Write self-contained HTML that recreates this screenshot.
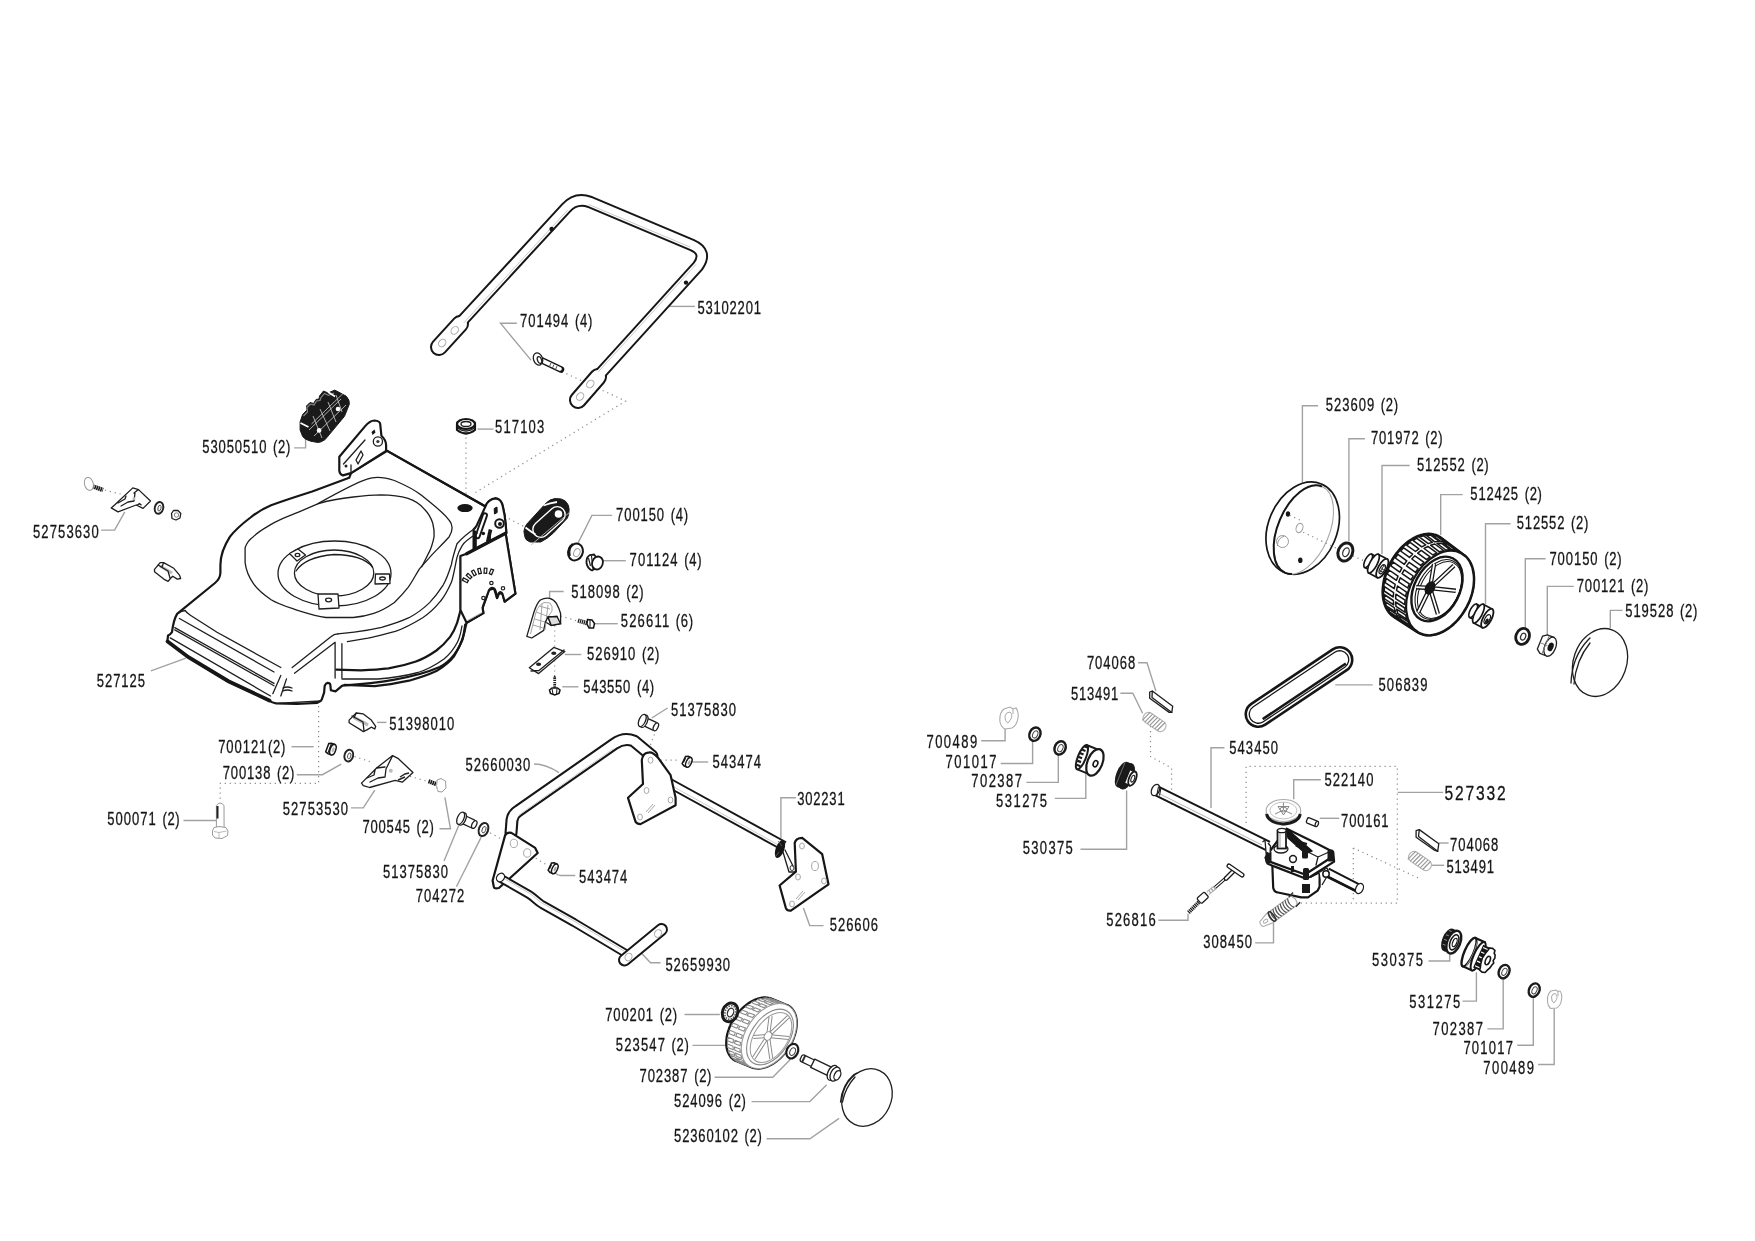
<!DOCTYPE html>
<html><head><meta charset="utf-8"><style>
html,body{margin:0;padding:0;background:#fff;width:1755px;height:1241px;overflow:hidden}
svg{display:block;will-change:transform}
text{font-family:"Liberation Sans",sans-serif;font-size:17.6px;fill:#151515;stroke:#151515;stroke-width:0.3px}
.k{fill:#fff;stroke:#161616;stroke-width:2.2;stroke-linejoin:round;stroke-linecap:round}
.kn{fill:none;stroke:#161616;stroke-width:2.2;stroke-linejoin:round;stroke-linecap:round}
.t{fill:none;stroke:#1e1e1e;stroke-width:1.3;stroke-linejoin:round;stroke-linecap:round}
.tw{fill:#fff;stroke:#1e1e1e;stroke-width:1.3;stroke-linejoin:round}
.g{fill:none;stroke:#a8a8a8;stroke-width:1}
.gw{fill:#fff;stroke:#9a9a9a;stroke-width:1}
.l{fill:none;stroke:#a2a2a2;stroke-width:1.4}
.d{fill:none;stroke:#8a8a8a;stroke-width:1.2;stroke-dasharray:1.2 3.8}
.f{fill:#1a1a1a;stroke:#1a1a1a;stroke-width:1;stroke-linejoin:round}
</style></head><body>
<svg width="1755" height="1241" viewBox="0 0 1755 1241">
<g class="l">
<path d="M668.9,306.4H694.9"/>
<path d="M516.8,323.3H500.5L531,360.1"/>
<path d="M493.4,429.1H477.5"/>
<path d="M294.1,447.9H305.6V438.8"/>
<path d="M101.1,530.1H114.6L124.8,511.9"/>
<path d="M612.2,515.4H591.9L577.5,544.1"/>
<path d="M625.8,560.7H602.9"/>
<path d="M563.7,591.5H549.6V598.3"/>
<path d="M617.8,623.7H594.5"/>
<path d="M581.3,654.5H564.8"/>
<path d="M578.4,686.8H562.3"/>
<path d="M150.9,670.9L186,658.2"/>
<path d="M386.4,722.4H377.1"/>
<path d="M667.6,708L651.8,718"/>
<path d="M291.5,746.7H313.7"/>
<path d="M296.8,774.7H322.5L341.2,764.1"/>
<path d="M534,764Q546,764 559,772.7"/>
<path d="M708.2,762H691.9"/>
<path d="M350.9,807.9H363.3L374.8,790.2"/>
<path d="M795.9,797.8H780.9V837.9"/>
<path d="M183.5,820.5H217"/>
<path d="M439.5,828.8H450.5L444.9,797.3"/>
<path d="M444,861.1L459,824.7"/>
<path d="M575.3,875.5H560.3Q556,875 554,870.5"/>
<path d="M456.4,886.8L481.2,837.1"/>
<path d="M823.5,925.6H809.7L803.4,908.1"/>
<path d="M660.5,962.8H650.5L639.2,950.7"/>
<path d="M684.5,1014.5H719.8"/>
<path d="M692.5,1045.4H726.9"/>
<path d="M714.5,1077.2H772.8L790.5,1059.2"/>
<path d="M751.6,1101.6H809.9L826.7,1084.8"/>
<path d="M766.6,1138.7H809.9L839.1,1118.4"/>
<path d="M1318.1,405.8H1302.4V482.7"/>
<path d="M1364.9,438.7H1348.9V541.4"/>
<path d="M1409.7,465.5H1382V554"/>
<path d="M1462.7,494.6H1440.7V535.1"/>
<path d="M1510.6,523.8H1485.5V604.1"/>
<path d="M1545.6,558.8H1525.3V628.2"/>
<path d="M1573.8,586.4H1547.3V635"/>
<path d="M1622.5,610.4H1610.3V628.3"/>
<path d="M1138.1,662.7H1147L1155.9,691.1"/>
<path d="M1120.4,693.2H1132.8L1142.6,713.3"/>
<path d="M1372.7,684.9H1335.3"/>
<path d="M981.2,740.8H1005.1V728.3"/>
<path d="M1000.7,763.5H1032.6V740.8"/>
<path d="M1026.4,782.4H1058.3V754.1"/>
<path d="M1054.8,798.4H1085.8V772.7"/>
<path d="M1080.5,849.3H1126.6V790.4"/>
<path d="M1224.5,747.8H1211V808"/>
<path d="M1320.8,779.8H1293.7V799.3"/>
<path d="M1443.2,792.4H1397.7"/>
<path d="M1339.2,818.3H1319.7"/>
<path d="M1448.6,843H1438.8"/>
<path d="M1444.2,865.3H1431.3"/>
<path d="M1158.4,920.3H1188V913.8"/>
<path d="M1255.2,942.9H1273.5V920.7"/>
<path d="M1428.5,961H1449.7V953.2"/>
<path d="M1462.5,1001.1H1476.4V972.3"/>
<path d="M1487.4,1028.9H1503.2V978.5"/>
<path d="M1517.3,1045.3H1533.3V997.7"/>
<path d="M1538.1,1064.5H1554.2V1008.6"/>
</g>
<g class="d">
<path d="M561.8,371.5L625.6,401.1L474,493.4"/>
<path d="M466,437.5V505"/>
<path d="M104.9,490.2L121.4,494.2M134,498.7L151.1,502.7"/>
<path d="M318.6,706V783.3H220.2V801"/>
<path d="M354.5,756.5L373.1,762.7M390.8,770.7L427.1,781.3"/>
<path d="M554.7,625.4V677.8M560.6,616L577.5,621"/>
<path d="M490.1,832.9L503.9,840.4M527.2,853L547.7,865.5"/>
<path d="M658,725.1L648,751.4M650.5,760.2L680.6,760.2"/>
<path d="M1352.8,556L1367,562"/>
<path d="M1150.5,726V756.5L1171.6,768V808"/>
<path d="M1246.1,823V766.4H1397.3V903.2H1300"/>
<path d="M1353.3,848L1421.5,879.4M1353.3,848V903"/>
<path d="M504.4,516.3L524.8,527"/>
</g>

<!-- deck 527125 -->
<g>
<!-- main body fill -->
<path class="k" stroke-width="2.6" d="M349.2,477.8L312.2,491.5C295,497 280,502 271.1,505.2C262,509 256,513 250.5,517.5C242,524 235,530 230,536.7C224,546 220.4,555 220.4,565L220.4,573Q220,579 215,583L177.1,613.9Q173.5,620 172,632.2Q170,635 168,635.6L167.4,641.3L188.5,657.2L228.4,681.2L269.4,700.5Q272,703 276,703.4L296.8,704L317.3,702.8Q321,701 321.8,699.4L324.1,692.6L324.7,685.7Q326,683 327.5,682.9Q330,683 330.3,684.6L330.9,690.3L335.5,691.4L342.3,685.7C376,683 412,679 439.8,667C455,659 462,645 465.5,627.3L466.6,622.8L483.4,613.1L482.6,607.8L486.5,597L489,590L494,588.5L497,598L499,593L502.5,594L504.7,601.6L515.4,593.6L505.6,533.3L506.3,532.9L504.6,515.4L502.6,505.5L495.6,498.3L488.8,501.3L485.5,506.4L484.2,505.8L387.2,450.9L351,473.1Z"/>
<!-- front lip lines -->
<path d="M167.6,641.5L188.5,657.2L228.4,681.2L269.4,700.5" stroke="#161616" stroke-width="3.8" fill="none" stroke-linecap="round"/>
<path class="t" stroke-width="1.6" d="M170.3,637.9L270.5,696"/>
<path class="t" d="M174.8,627.6L274,683.4M174.8,629.9L274,685.8"/>
<path class="t" stroke-width="1.6" d="M179.4,618.5L274,672"/>
<path class="t" stroke-width="1.7" d="M177.1,613.9Q181,611 185.1,610.5Q187,613 190,615L217,632.2L280.8,667.5"/>
<path class="t" d="M280.8,675.5L272.8,693.7M286.5,678.9L280.8,696"/>
<path class="t" d="M283,688Q287,686 292,688M283,691Q287,689 292,691"/>
<path class="t" stroke-width="1.7" d="M292.2,667.5L330.9,636.7Q334,634 337.8,633.9"/>
<path class="t" stroke-width="1.7" d="M294.5,673.2L335.1,642.3V678"/>
<path class="t" stroke-width="1.7" d="M341.9,643.7V678"/>

<path class="t" d="M276,703.4L321,701"/>
<!-- top surface loop A -->
<path class="t" stroke-width="1.9" d="M317.7,503.8C330,497 355,483 367,479.2Q378,475 394.4,480.5C405,485 415,490 421.8,495.6C432,504 443,512 449.2,520.3Q455,527 449.2,536.7C442,545 433,553 428.6,558.6C423,565 420,568 419,569.6C415,576 412,582 408.1,587.4C403,594 398,599 394.4,602.5C388,607 381,611 373.8,613.4C366,616 360,617 353.3,617.5L325.9,617.5C315,616 306,613 298.5,610.7C288,607 278,604 271.1,599.7C263,594 257,589 253.3,583.3C248,576 246,570 245.1,562.7L245.1,547.7C247,542 250,539 253.3,536.7C259,531 265,528 271.1,524.4C280,519 289,516 298.5,512.1Z"/>
<!-- loop B -->
<path class="t" stroke-width="1.9" d="M317.7,503.8C330,500 343,498 353.3,497C362,496 372,495 380.7,494.9C390,495 400,496 408.1,498.4C416,501 421,505 424.5,509.3C429,514 431,518 432.7,523C434,528 434.5,532 434.1,536.7C433,542 432,546 430,550.4L421.8,566.8"/>
<!-- ring -->
<ellipse cx="334.5" cy="573.5" rx="56.5" ry="32.5" class="t" stroke-width="1.9"/>
<ellipse cx="334.1" cy="573" rx="39.7" ry="23" class="t" stroke-width="2"/>
<path class="t" stroke-width="1.6" d="M296,571Q305,557 334,554.5Q363,555 372.5,567"/>
<!-- ring tabs -->
<g class="tw"><path d="M289.5,553.5L298,549L305.5,555L297,561Z"/><ellipse cx="297.5" cy="555" rx="2.3" ry="1.6"/>
<path d="M375.5,574L389.5,574L390,583.5L375,584Z"/><ellipse cx="382.5" cy="578.5" rx="2.8" ry="1.5"/>
<path d="M318,594L338,594L339,608L319,609Z"/><ellipse cx="328.6" cy="600" rx="3" ry="1.8"/></g>
<!-- rear edge -->
<path class="kn" stroke-width="2.6" d="M387.2,450.9L484.2,505.8"/>
<ellipse cx="465" cy="508.1" rx="7.7" ry="4" fill="#161616"/>
<!-- left hinge bracket -->
<path class="k" d="M339.3,456.7L365,426.4Q370,420.5 374.4,420.5Q380,421 380.2,424L381.4,435.7Q386,440 386.1,445L386.1,450.9L351,473.1L342.9,475.4Q339.5,474 339.3,470.7Z"/>
<circle cx="377.9" cy="441.5" r="4.6" class="t" stroke-width="1.6"/><circle cx="377.9" cy="441.5" r="1.6" fill="#333"/>
<path class="t" d="M356,460L361,451L363,455L358,464Z"/>
<path d="M371.5,432l3,-2.5l1,3l-3,2.5z" fill="#161616"/>
<path class="t" d="M343.5,464L365,440M351,473.1V465"/>
<circle cx="346" cy="466" r="1.5" fill="#222"/>
<!-- right hinge bracket -->
<path class="k" stroke-width="2.4" d="M485.5,506.4Q486.5,503 488.8,501.3Q492,498.3 495.6,498.3Q499,498.5 500.6,501Q502.2,503 502.6,505.5L504.6,515.4L505.8,525L506.3,532.9L504.6,535.1L499,537.4L486.6,544.1L476.4,549.8L473.6,549L473.6,529.5L476.4,526.1Z"/>
<path d="M484.9,515.4L477.6,536.2" stroke="#161616" stroke-width="6" stroke-linecap="round"/>
<path d="M484.9,515.4L477.6,536.2" stroke="#fff" stroke-width="2.2" stroke-linecap="round"/>
<circle cx="499.5" cy="523.5" r="4.3" fill="#fff" stroke="#161616" stroke-width="2"/>
<circle cx="500" cy="524" r="2" fill="#161616"/>
<path d="M494.2,508.5L497,507L497.2,512.5L494.5,514Z" fill="#161616" stroke="#161616" stroke-width="1"/>
<circle cx="483.3" cy="533.5" r="1.8" fill="#161616"/>
<path d="M490.5,529.5L487.7,541.9" stroke="#161616" stroke-width="3.6"/>
<path d="M474.7,530.6V549.2" stroke="#161616" stroke-width="2.6"/>
<!-- side plate -->
<path class="k" stroke-width="2.4" d="M460.4,556L466.6,553.7L505.6,533.3L515.4,593.6L504.7,601.6L502.5,594Q501,591 499,593L497,598Q496,590 494,588.5Q491,587 489,590L486.5,597L483.4,605.1L482.6,607.8L483.4,613.1L466.6,622.8L460.4,610Z"/>
<path d="M466.6,553.7L505.6,533.3" stroke="#161616" stroke-width="3.4" stroke-linecap="round"/>
<path d="M475.5,533.3V549M489.6,533.3V542.5" stroke="#161616" stroke-width="2.6"/>
<path d="M468.4,581.9L462.3,578.8" stroke="#161616" stroke-width="3.8"/><path d="M467.2,581.3L463.6,579.4" stroke="#fff" stroke-width="1.4"/><path d="M471.5,578.3L466.6,573.8" stroke="#161616" stroke-width="3.8"/><path d="M470.5,577.4L467.6,574.7" stroke="#fff" stroke-width="1.4"/><path d="M475.5,575.7L472.3,570.1" stroke="#161616" stroke-width="3.8"/><path d="M474.9,574.6L472.9,571.2" stroke="#fff" stroke-width="1.4"/><path d="M480.3,574.2L478.8,568.0" stroke="#161616" stroke-width="3.8"/><path d="M480.0,572.9L479.1,569.2" stroke="#fff" stroke-width="1.4"/><path d="M485.3,573.8L485.7,567.6" stroke="#161616" stroke-width="3.8"/><path d="M485.4,572.6L485.6,568.8" stroke="#fff" stroke-width="1.4"/><path d="M490.2,574.8L492.6,568.9" stroke="#161616" stroke-width="3.8"/><path d="M490.6,573.6L492.1,570.0" stroke="#fff" stroke-width="1.4"/>
<circle cx="491.4" cy="583" r="1.7" fill="none" stroke="#222" stroke-width="1.2"/><circle cx="503" cy="588.3" r="1.7" fill="none" stroke="#222" stroke-width="1.2"/><circle cx="483.4" cy="598" r="1.7" fill="none" stroke="#222" stroke-width="1.2"/>
<path d="M467.5,620.5L482,612.5" stroke="#aaa" stroke-width="0.9"/>
<!-- rear skirt lines -->
<path class="t" stroke-width="1.7" d="M475.5,528C468,533 462,538 457,543.7C455,550 452,560 451.5,564.2C449,572 446,580 443.3,584.8C438,593 434,598 429.6,602.6C423,609 416,614 409,617.7C400,622 390,625 381.6,627.3C372,629.5 363,631 354.2,632.1L337.8,633.9"/>
<path class="t" stroke-width="1.7" d="M477.2,533.3C470,538 465,541 462.5,545.1C460,549 458,553 457,557.4C455,566 454,574 451.5,582.1C448,590 445,596 440.5,601.2C435,608 430,613 422.7,617.7C414,623 405,628 395.3,631.4C386,634 377,636 367.9,638.2L347.4,641.6"/>
<path class="t" stroke-width="1.6" d="M460.4,557.4V608.8"/>
<path class="kn" stroke-width="2.3" d="M460.4,610.8C459,616 458,620 457,623.2C455,629 453,633 450.1,636.8C446,642 441,647 436.4,650.5C430,655 423,659 415.9,661.5C406,665 397,667 388.5,668.4C379,669.5 370,670 361.1,670.4L336.4,669.7"/>
<path class="t" stroke-width="1.2" d="M462,626C461,632 459.5,638 457.5,642C454,649 450,654 444,659C437,664 429,669 418,672.5C405,676 392,678 378,679L342,679"/>
<path class="kn" stroke-width="2.6" d="M465.2,624.5C464.5,630 463.8,635 462.5,639.6C460,646 457,651 454.2,656C449,663 443,667 436.4,671.1C428,675 419,678 409,680.7C398,683 387,685 374.8,686.2L344.7,684.8"/>
</g>

<path d="M1382.8,592.3 L1382.8,590.9 L1382.9,589.5 L1383.0,588.0 L1383.1,586.6 L1383.3,585.1 L1383.5,583.6 L1383.7,582.1 L1384.0,580.7 L1384.4,579.2 L1384.7,577.7 L1385.1,576.2 L1385.6,574.7 L1386.1,573.2 L1386.6,571.7 L1387.2,570.2 L1387.8,568.7 L1388.4,567.2 L1389.1,565.8 L1389.8,564.3 L1390.5,562.9 L1391.3,561.5 L1392.1,560.1 L1392.9,558.7 L1393.8,557.4 L1394.7,556.1 L1395.6,554.8 L1396.5,553.5 L1397.5,552.3 L1398.5,551.1 L1399.5,549.9 L1400.5,548.7 L1401.6,547.6 L1402.7,546.5 L1403.8,545.5 L1404.9,544.5 L1406.0,543.5 L1407.1,542.6 L1408.3,541.7 L1409.4,540.9 L1410.6,540.1 L1411.8,539.4 L1412.9,538.7 L1414.1,538.0 L1415.3,537.4 L1416.5,536.8 L1417.7,536.3 L1418.9,535.9 L1420.1,535.5 L1421.3,535.1 L1422.5,534.8 L1423.6,534.5 L1424.8,534.3 L1426.0,534.2 L1427.1,534.1 L1428.2,534.0 L1429.4,534.0 L1430.5,534.1 L1431.5,534.2 L1432.6,534.3 L1433.7,534.6 L1434.7,534.8 L1435.7,535.1 L1436.7,535.5 L1437.7,535.9 L1438.6,536.4 L1439.5,536.9 L1440.4,537.5 L1441.2,538.1 L1463.8,555.0 L1464.6,555.6 L1465.4,556.3 L1466.2,557.1 L1466.9,557.9 L1467.6,558.7 L1468.3,559.6 L1468.9,560.5 L1469.5,561.4 L1470.1,562.4 L1470.6,563.5 L1471.1,564.5 L1471.5,565.6 L1472.0,566.8 L1472.3,567.9 L1472.7,569.1 L1473.0,570.4 L1473.2,571.6 L1473.4,572.9 L1473.6,574.2 L1473.7,575.5 L1473.8,576.9 L1473.9,578.2 L1473.9,579.6 L1473.8,581.0 L1473.8,582.5 L1473.7,583.9 L1473.5,585.3 L1473.3,586.8 L1473.1,588.2 L1472.8,589.7 L1472.5,591.2 L1472.1,592.6 L1471.7,594.1 L1471.3,595.6 L1470.8,597.1 L1470.3,598.5 L1469.8,600.0 L1469.2,601.4 L1468.6,602.9 L1467.9,604.3 L1467.2,605.7 L1466.5,607.1 L1465.7,608.5 L1465.0,609.8 L1464.1,611.2 L1463.3,612.5 L1462.4,613.8 L1461.5,615.0 L1460.6,616.3 L1459.6,617.5 L1458.7,618.7 L1457.7,619.8 L1456.6,620.9 L1455.6,622.0 L1454.5,623.1 L1453.5,624.1 L1452.4,625.1 L1451.3,626.0 L1450.1,626.9 L1449.0,627.7 L1447.9,628.6 L1446.7,629.3 L1445.5,630.1 L1444.4,630.7 L1443.2,631.4 L1442.0,632.0 L1440.8,632.5 L1439.7,633.0 L1438.5,633.4 L1437.3,633.8 L1436.1,634.2 L1434.9,634.5 L1433.8,634.7 L1432.6,634.9 L1431.5,635.0 L1430.3,635.1 L1429.2,635.2 L1428.1,635.1 L1427.0,635.1 L1425.9,635.0 L1424.8,634.8 L1423.8,634.6 L1422.8,634.3 L1421.8,634.0 L1420.8,633.6 L1419.8,633.2 L1418.9,632.7 L1418.0,632.2 L1417.1,631.7 L1393.6,616.5 L1392.8,615.9 L1391.9,615.3 L1391.1,614.6 L1390.4,613.8 L1389.6,613.0 L1388.9,612.2 L1388.3,611.3 L1387.6,610.3 L1387.1,609.4 L1386.5,608.4 L1386.0,607.3 L1385.5,606.2 L1385.1,605.1 L1384.6,604.0 L1384.3,602.8 L1384.0,601.6 L1383.7,600.3 L1383.4,599.1 L1383.2,597.8 L1383.1,596.4 L1382.9,595.1 L1382.9,593.7Z" fill="#fff" stroke="#161616" stroke-width="2.8" stroke-linejoin="round"/>
<path d="M1400.2,620.1 L1409.4,626.0 L1413.7,626.8 L1404.6,620.9Z" fill="#fff" stroke="#161616" stroke-width="1.5" stroke-linejoin="round"/>
<path d="M1394.9,617.5 L1404.0,623.4 L1407.9,625.5 L1398.7,619.6Z" fill="#fff" stroke="#161616" stroke-width="1.5" stroke-linejoin="round"/>
<path d="M1390.5,613.4 L1399.7,619.3 L1402.8,622.5 L1393.6,616.6Z" fill="#fff" stroke="#161616" stroke-width="1.5" stroke-linejoin="round"/>
<path d="M1387.2,608.1 L1396.4,614.0 L1398.5,617.9 L1389.4,612.0Z" fill="#fff" stroke="#161616" stroke-width="1.5" stroke-linejoin="round"/>
<path d="M1385.1,601.7 L1394.2,607.7 L1395.5,611.9 L1386.3,606.0Z" fill="#fff" stroke="#161616" stroke-width="1.5" stroke-linejoin="round"/>
<path d="M1384.2,594.5 L1393.3,600.5 L1393.7,604.9 L1384.6,598.9Z" fill="#fff" stroke="#161616" stroke-width="1.5" stroke-linejoin="round"/>
<path d="M1384.5,586.6 L1393.6,592.6 L1393.3,597.0 L1384.2,591.0Z" fill="#fff" stroke="#161616" stroke-width="1.5" stroke-linejoin="round"/>
<path d="M1386.1,578.3 L1395.2,584.4 L1394.2,588.7 L1385.2,582.6Z" fill="#fff" stroke="#161616" stroke-width="1.5" stroke-linejoin="round"/>
<path d="M1389.0,570.0 L1398.0,576.2 L1396.4,580.3 L1387.4,574.1Z" fill="#fff" stroke="#161616" stroke-width="1.5" stroke-linejoin="round"/>
<path d="M1392.9,561.9 L1401.9,568.2 L1399.8,572.1 L1390.9,565.8Z" fill="#fff" stroke="#161616" stroke-width="1.5" stroke-linejoin="round"/>
<path d="M1397.9,554.4 L1406.8,560.8 L1404.3,564.3 L1395.3,558.0Z" fill="#fff" stroke="#161616" stroke-width="1.5" stroke-linejoin="round"/>
<path d="M1403.7,547.8 L1412.6,554.2 L1409.5,557.4 L1400.6,551.0Z" fill="#fff" stroke="#161616" stroke-width="1.5" stroke-linejoin="round"/>
<path d="M1410.1,542.4 L1418.9,548.8 L1415.5,551.5 L1406.6,545.1Z" fill="#fff" stroke="#161616" stroke-width="1.5" stroke-linejoin="round"/>
<path d="M1416.8,538.3 L1425.7,544.8 L1421.8,546.9 L1413.0,540.4Z" fill="#fff" stroke="#161616" stroke-width="1.5" stroke-linejoin="round"/>
<path d="M1423.7,535.8 L1432.5,542.3 L1428.3,543.6 L1419.5,537.1Z" fill="#fff" stroke="#161616" stroke-width="1.5" stroke-linejoin="round"/>
<path d="M1430.4,534.9 L1439.2,541.5 L1434.8,541.8 L1426.0,535.2Z" fill="#fff" stroke="#161616" stroke-width="1.5" stroke-linejoin="round"/>
<path d="M1436.5,535.9 L1445.3,542.4 L1441.0,541.6 L1432.2,535.0Z" fill="#fff" stroke="#161616" stroke-width="1.5" stroke-linejoin="round"/>
<path d="M1441.9,538.4 L1450.7,545.0 L1446.8,542.9 L1438.0,536.3Z" fill="#fff" stroke="#161616" stroke-width="1.5" stroke-linejoin="round"/>
<path d="M1446.2,542.5 L1455.0,549.1 L1451.9,545.9 L1443.2,539.4Z" fill="#fff" stroke="#161616" stroke-width="1.5" stroke-linejoin="round"/>
<path d="M1449.5,547.8 L1458.3,554.4 L1456.2,550.5 L1447.4,544.0Z" fill="#fff" stroke="#161616" stroke-width="1.5" stroke-linejoin="round"/>
<path d="M1406.4,624.9 L1415.5,630.8 L1419.4,632.9 L1410.2,627.0Z" fill="#fff" stroke="#161616" stroke-width="1.5" stroke-linejoin="round"/>
<path d="M1402.0,620.9 L1411.2,626.8 L1414.3,629.9 L1405.1,624.0Z" fill="#fff" stroke="#161616" stroke-width="1.5" stroke-linejoin="round"/>
<path d="M1398.7,615.6 L1407.9,621.5 L1410.0,625.3 L1400.9,619.4Z" fill="#fff" stroke="#161616" stroke-width="1.5" stroke-linejoin="round"/>
<path d="M1396.6,609.2 L1405.7,615.2 L1406.9,619.4 L1397.8,613.5Z" fill="#fff" stroke="#161616" stroke-width="1.5" stroke-linejoin="round"/>
<path d="M1395.6,602.0 L1404.7,608.0 L1405.1,612.4 L1396.0,606.4Z" fill="#fff" stroke="#161616" stroke-width="1.5" stroke-linejoin="round"/>
<path d="M1395.9,594.2 L1405.0,600.2 L1404.7,604.6 L1395.6,598.6Z" fill="#fff" stroke="#161616" stroke-width="1.5" stroke-linejoin="round"/>
<path d="M1397.5,586.0 L1406.5,592.1 L1405.6,596.4 L1396.5,590.3Z" fill="#fff" stroke="#161616" stroke-width="1.5" stroke-linejoin="round"/>
<path d="M1400.3,577.8 L1409.3,583.9 L1407.7,588.0 L1398.7,581.9Z" fill="#fff" stroke="#161616" stroke-width="1.5" stroke-linejoin="round"/>
<path d="M1404.2,569.8 L1413.2,576.0 L1411.1,579.9 L1402.1,573.7Z" fill="#fff" stroke="#161616" stroke-width="1.5" stroke-linejoin="round"/>
<path d="M1409.1,562.4 L1418.1,568.7 L1415.5,572.3 L1406.5,565.9Z" fill="#fff" stroke="#161616" stroke-width="1.5" stroke-linejoin="round"/>
<path d="M1414.9,555.8 L1423.8,562.2 L1420.7,565.4 L1411.8,559.0Z" fill="#fff" stroke="#161616" stroke-width="1.5" stroke-linejoin="round"/>
<path d="M1421.2,550.4 L1430.1,556.9 L1426.6,559.6 L1417.7,553.1Z" fill="#fff" stroke="#161616" stroke-width="1.5" stroke-linejoin="round"/>
<path d="M1427.9,546.4 L1436.8,552.9 L1432.9,555.0 L1424.1,548.5Z" fill="#fff" stroke="#161616" stroke-width="1.5" stroke-linejoin="round"/>
<path d="M1434.8,544.0 L1443.6,550.5 L1439.4,551.8 L1430.6,545.2Z" fill="#fff" stroke="#161616" stroke-width="1.5" stroke-linejoin="round"/>
<path d="M1441.4,543.2 L1450.2,549.8 L1445.8,550.0 L1437.0,543.5Z" fill="#fff" stroke="#161616" stroke-width="1.5" stroke-linejoin="round"/>
<path d="M1447.6,544.1 L1456.4,550.7 L1452.0,549.8 L1443.3,543.2Z" fill="#fff" stroke="#161616" stroke-width="1.5" stroke-linejoin="round"/>
<path d="M1452.9,546.7 L1461.7,553.3 L1457.8,551.2 L1449.1,544.6Z" fill="#fff" stroke="#161616" stroke-width="1.5" stroke-linejoin="round"/>
<path d="M1457.3,550.7 L1466.1,557.3 L1463.0,554.2 L1454.2,547.6Z" fill="#fff" stroke="#161616" stroke-width="1.5" stroke-linejoin="round"/>
<ellipse cx="1440.0" cy="593.0" rx="30.0" ry="45.0" transform="rotate(28 1440.0 593.0)" fill="#fff" stroke="#161616" stroke-width="2.2"/>
<ellipse cx="1437.0" cy="589.0" rx="22.5" ry="34.5" transform="rotate(28 1437.0 589.0)" fill="#fff" stroke="#161616" stroke-width="2.4"/>
<ellipse cx="1438.5" cy="589.5" rx="20.5" ry="32.0" transform="rotate(28 1438.5 589.5)" fill="none" stroke="#161616" stroke-width="1.1"/>
<ellipse cx="1439.5" cy="590.0" rx="19.0" ry="30.5" transform="rotate(28 1439.5 590.0)" fill="none" stroke="#161616" stroke-width="1"/>
<path d="M1430,588L1453.9,565.7M1430,588L1455.8,590.8M1430,588L1437.9,614.0M1430,588L1418.1,612.3M1430,588L1416.2,587.2M1430,588L1434.1,564.0" stroke="#161616" stroke-width="4.4" fill="none"/>
<path d="M1430,588L1453.9,565.7M1430,588L1455.8,590.8M1430,588L1437.9,614.0M1430,588L1418.1,612.3M1430,588L1416.2,587.2M1430,588L1434.1,564.0" stroke="#fff" stroke-width="1.8" fill="none"/>
<ellipse cx="1430.0" cy="588.0" rx="5.0" ry="7.0" transform="rotate(28 1430.0 588.0)" fill="#161616"/>
<path d="M726.3,1042.5 L726.3,1041.5 L726.4,1040.4 L726.5,1039.3 L726.6,1038.2 L726.7,1037.1 L726.9,1036.0 L727.2,1034.9 L727.4,1033.8 L727.7,1032.7 L728.0,1031.5 L728.4,1030.4 L728.8,1029.3 L729.2,1028.1 L729.6,1027.0 L730.1,1025.9 L730.6,1024.7 L731.2,1023.6 L731.7,1022.5 L732.3,1021.4 L732.9,1020.3 L733.6,1019.3 L734.2,1018.2 L734.9,1017.1 L735.6,1016.1 L736.4,1015.1 L737.1,1014.1 L737.9,1013.1 L738.7,1012.2 L739.5,1011.2 L740.4,1010.3 L741.2,1009.4 L742.1,1008.5 L743.0,1007.7 L743.9,1006.9 L744.8,1006.1 L745.7,1005.4 L746.6,1004.6 L747.6,1003.9 L748.5,1003.3 L749.4,1002.6 L750.4,1002.1 L751.4,1001.5 L752.3,1001.0 L753.3,1000.5 L754.3,1000.0 L755.2,999.6 L756.2,999.2 L757.2,998.9 L758.1,998.6 L759.1,998.3 L760.0,998.1 L761.0,997.9 L761.9,997.7 L762.8,997.6 L763.7,997.5 L764.6,997.5 L765.5,997.5 L766.4,997.6 L767.3,997.6 L768.1,997.8 L768.9,997.9 L769.7,998.1 L770.5,998.4 L771.3,998.7 L786.3,1004.7 L787.0,1005.0 L787.8,1005.3 L788.5,1005.7 L789.1,1006.2 L789.8,1006.6 L790.4,1007.1 L791.0,1007.7 L791.6,1008.2 L792.1,1008.8 L792.7,1009.5 L793.1,1010.2 L793.6,1010.9 L794.0,1011.6 L794.4,1012.4 L794.8,1013.1 L795.1,1014.0 L795.5,1014.8 L795.7,1015.7 L796.0,1016.6 L796.2,1017.5 L796.4,1018.4 L796.5,1019.4 L796.6,1020.4 L796.7,1021.4 L796.7,1022.4 L796.7,1023.5 L796.7,1024.5 L796.6,1025.6 L796.5,1026.7 L796.4,1027.8 L796.3,1028.9 L796.1,1030.0 L795.8,1031.1 L795.6,1032.2 L795.3,1033.3 L795.0,1034.5 L794.6,1035.6 L794.2,1036.7 L793.8,1037.9 L793.4,1039.0 L792.9,1040.1 L792.4,1041.3 L791.8,1042.4 L791.3,1043.5 L790.7,1044.6 L790.1,1045.7 L789.4,1046.7 L788.8,1047.8 L788.1,1048.9 L787.4,1049.9 L786.6,1050.9 L785.9,1051.9 L785.1,1052.9 L784.3,1053.8 L783.5,1054.8 L782.6,1055.7 L781.8,1056.6 L780.9,1057.5 L780.0,1058.3 L779.1,1059.1 L778.2,1059.9 L777.3,1060.6 L776.4,1061.4 L775.4,1062.1 L774.5,1062.7 L773.6,1063.4 L772.6,1063.9 L771.6,1064.5 L770.7,1065.0 L769.7,1065.5 L768.7,1066.0 L767.8,1066.4 L766.8,1066.8 L765.8,1067.1 L764.9,1067.4 L763.9,1067.7 L763.0,1067.9 L762.0,1068.1 L761.1,1068.3 L760.2,1068.4 L759.3,1068.5 L758.4,1068.5 L757.5,1068.5 L756.6,1068.4 L755.7,1068.4 L754.9,1068.2 L754.1,1068.1 L753.3,1067.9 L752.5,1067.6 L751.7,1067.3 L736.7,1061.3 L736.0,1061.0 L735.2,1060.7 L734.5,1060.3 L733.9,1059.8 L733.2,1059.4 L732.6,1058.9 L732.0,1058.3 L731.4,1057.8 L730.9,1057.2 L730.3,1056.5 L729.9,1055.8 L729.4,1055.1 L729.0,1054.4 L728.6,1053.6 L728.2,1052.9 L727.9,1052.0 L727.5,1051.2 L727.3,1050.3 L727.0,1049.4 L726.8,1048.5 L726.6,1047.6 L726.5,1046.6 L726.4,1045.6 L726.3,1044.6 L726.3,1043.6Z" fill="#fff" stroke="#161616" stroke-width="2.3" stroke-linejoin="round"/>
<path d="M738.2,1062.0 L743.7,1064.2 L747.0,1065.1 L741.5,1062.9Z" fill="#fff" stroke="#8a8a8a" stroke-width="1.1" stroke-linejoin="round"/>
<path d="M733.7,1059.4 L739.2,1061.6 L742.0,1063.5 L736.5,1061.3Z" fill="#fff" stroke="#8a8a8a" stroke-width="1.1" stroke-linejoin="round"/>
<path d="M730.3,1055.3 L735.9,1057.6 L737.9,1060.3 L732.3,1058.1Z" fill="#fff" stroke="#8a8a8a" stroke-width="1.1" stroke-linejoin="round"/>
<path d="M728.2,1050.2 L733.8,1052.4 L734.9,1055.6 L729.3,1053.4Z" fill="#fff" stroke="#8a8a8a" stroke-width="1.1" stroke-linejoin="round"/>
<path d="M727.4,1044.1 L733.0,1046.3 L733.3,1049.7 L727.7,1047.5Z" fill="#fff" stroke="#8a8a8a" stroke-width="1.1" stroke-linejoin="round"/>
<path d="M728.0,1037.3 L733.5,1039.6 L733.1,1042.9 L727.5,1040.7Z" fill="#fff" stroke="#8a8a8a" stroke-width="1.1" stroke-linejoin="round"/>
<path d="M729.8,1030.2 L735.3,1032.4 L734.3,1035.7 L728.8,1033.5Z" fill="#fff" stroke="#8a8a8a" stroke-width="1.1" stroke-linejoin="round"/>
<path d="M732.9,1023.1 L738.4,1025.3 L736.9,1028.3 L731.4,1026.1Z" fill="#fff" stroke="#8a8a8a" stroke-width="1.1" stroke-linejoin="round"/>
<path d="M737.1,1016.2 L742.6,1018.4 L740.7,1021.2 L735.2,1019.0Z" fill="#fff" stroke="#8a8a8a" stroke-width="1.1" stroke-linejoin="round"/>
<path d="M742.2,1010.0 L747.8,1012.3 L745.5,1014.8 L739.9,1012.6Z" fill="#fff" stroke="#8a8a8a" stroke-width="1.1" stroke-linejoin="round"/>
<path d="M748.1,1004.9 L753.6,1007.1 L751.0,1009.2 L745.4,1007.0Z" fill="#fff" stroke="#8a8a8a" stroke-width="1.1" stroke-linejoin="round"/>
<path d="M754.3,1001.0 L759.9,1003.2 L756.9,1004.9 L751.4,1002.6Z" fill="#fff" stroke="#8a8a8a" stroke-width="1.1" stroke-linejoin="round"/>
<path d="M760.7,998.6 L766.2,1000.8 L763.0,1001.8 L757.4,999.6Z" fill="#fff" stroke="#8a8a8a" stroke-width="1.1" stroke-linejoin="round"/>
<path d="M766.8,997.9 L772.3,1000.2 L768.9,1000.3 L763.4,998.1Z" fill="#fff" stroke="#8a8a8a" stroke-width="1.1" stroke-linejoin="round"/>
<path d="M772.2,999.0 L777.8,1001.2 L774.5,1000.3 L768.9,998.1Z" fill="#fff" stroke="#8a8a8a" stroke-width="1.1" stroke-linejoin="round"/>
<path d="M776.7,1001.6 L782.3,1003.8 L779.5,1001.9 L773.9,999.7Z" fill="#fff" stroke="#8a8a8a" stroke-width="1.1" stroke-linejoin="round"/>
<path d="M745.2,1064.8 L750.8,1067.0 L754.1,1067.9 L748.5,1065.7Z" fill="#fff" stroke="#8a8a8a" stroke-width="1.1" stroke-linejoin="round"/>
<path d="M740.7,1062.2 L746.3,1064.4 L749.1,1066.3 L743.5,1064.1Z" fill="#fff" stroke="#8a8a8a" stroke-width="1.1" stroke-linejoin="round"/>
<path d="M737.4,1058.2 L742.9,1060.4 L744.9,1063.1 L739.4,1060.9Z" fill="#fff" stroke="#8a8a8a" stroke-width="1.1" stroke-linejoin="round"/>
<path d="M735.3,1053.0 L740.8,1055.2 L741.9,1058.4 L736.4,1056.2Z" fill="#fff" stroke="#8a8a8a" stroke-width="1.1" stroke-linejoin="round"/>
<path d="M734.5,1046.9 L740.0,1049.1 L740.3,1052.5 L734.8,1050.3Z" fill="#fff" stroke="#8a8a8a" stroke-width="1.1" stroke-linejoin="round"/>
<path d="M735.0,1040.2 L740.6,1042.4 L740.1,1045.8 L734.6,1043.5Z" fill="#fff" stroke="#8a8a8a" stroke-width="1.1" stroke-linejoin="round"/>
<path d="M736.8,1033.0 L742.4,1035.3 L741.4,1038.5 L735.8,1036.3Z" fill="#fff" stroke="#8a8a8a" stroke-width="1.1" stroke-linejoin="round"/>
<path d="M739.9,1025.9 L745.5,1028.1 L744.0,1031.2 L738.4,1028.9Z" fill="#fff" stroke="#8a8a8a" stroke-width="1.1" stroke-linejoin="round"/>
<path d="M744.1,1019.0 L749.7,1021.3 L747.8,1024.1 L742.2,1021.8Z" fill="#fff" stroke="#8a8a8a" stroke-width="1.1" stroke-linejoin="round"/>
<path d="M749.3,1012.9 L754.8,1015.1 L752.5,1017.6 L747.0,1015.4Z" fill="#fff" stroke="#8a8a8a" stroke-width="1.1" stroke-linejoin="round"/>
<path d="M755.1,1007.7 L760.7,1009.9 L758.0,1012.0 L752.5,1009.8Z" fill="#fff" stroke="#8a8a8a" stroke-width="1.1" stroke-linejoin="round"/>
<path d="M761.4,1003.8 L766.9,1006.0 L764.0,1007.7 L758.4,1005.5Z" fill="#fff" stroke="#8a8a8a" stroke-width="1.1" stroke-linejoin="round"/>
<path d="M767.7,1001.4 L773.3,1003.7 L770.0,1004.7 L764.5,1002.4Z" fill="#fff" stroke="#8a8a8a" stroke-width="1.1" stroke-linejoin="round"/>
<path d="M773.8,1000.8 L779.4,1003.0 L776.0,1003.1 L770.4,1000.9Z" fill="#fff" stroke="#8a8a8a" stroke-width="1.1" stroke-linejoin="round"/>
<path d="M779.3,1001.8 L784.8,1004.0 L781.5,1003.1 L776.0,1000.9Z" fill="#fff" stroke="#8a8a8a" stroke-width="1.1" stroke-linejoin="round"/>
<ellipse cx="769.0" cy="1036.0" rx="23.0" ry="36.0" transform="rotate(34 769.0 1036.0)" fill="#fff" stroke="#9a9a9a" stroke-width="1.1"/>
<ellipse cx="770.0" cy="1037.0" rx="19.0" ry="31.0" transform="rotate(34 770.0 1037.0)" fill="none" stroke="#8a8a8a" stroke-width="1.1"/>
<ellipse cx="771.0" cy="1037.5" rx="16.5" ry="28.0" transform="rotate(34 771.0 1037.5)" fill="none" stroke="#9a9a9a" stroke-width="1"/>
<path d="M768,1036L788.4,1016.6M768,1036L788.7,1038.1M768,1036L771.3,1059.0M768,1036L753.6,1058.4M768,1036L753.3,1036.9M768,1036L770.7,1016.0" stroke="#8a8a8a" stroke-width="4" fill="none"/>
<path d="M768,1036L788.4,1016.6M768,1036L788.7,1038.1M768,1036L771.3,1059.0M768,1036L753.6,1058.4M768,1036L753.3,1036.9M768,1036L770.7,1016.0" stroke="#fff" stroke-width="2" fill="none"/>
<ellipse cx="768.0" cy="1036.0" rx="3.5" ry="4.6" transform="rotate(34 768.0 1036.0)" fill="#fff" stroke="#8a8a8a" stroke-width="1.1"/>
<!-- upper handle 53102201 -->
<g fill="none" stroke-linecap="round" stroke-linejoin="round">
<path d="M462,321L566,208Q576,197 590,202L692,245Q708,252 698,266L600,374" stroke="#161616" stroke-width="12.5"/>
<path d="M460,324L439,347M598,377L578,400" stroke="#161616" stroke-width="18"/>
<path d="M462,321L566,208Q576,197 590,202L692,245Q708,252 698,266L600,374" stroke="#fff" stroke-width="8.6"/>
<path d="M460,324L439,347M598,377L578,400" stroke="#fff" stroke-width="14"/>
<path d="M464.3,322.2L567.5,210.2M589,204.6L690,247M695.8,264.6L598.3,371.8" stroke="#c4c4c4" stroke-width="0.9"/>
</g>
<g class="g"><ellipse cx="454.7" cy="330.4" rx="3.3" ry="4.2" transform="rotate(40 454.7 330.4)"/><ellipse cx="442.2" cy="343" rx="3.3" ry="4.2" transform="rotate(40 442.2 343)"/>
<ellipse cx="590.3" cy="384" rx="3.3" ry="4.2" transform="rotate(40 590.3 384)"/><ellipse cx="580.1" cy="396.5" rx="3.3" ry="4.2" transform="rotate(40 580.1 396.5)"/></g>
<circle cx="551.6" cy="229" r="2.2" fill="#161616"/><circle cx="686" cy="282.6" r="2.2" fill="#161616"/>
<!-- bolt 701494 -->
<path d="M541,360L561,369.5" stroke="#161616" stroke-width="6.5" stroke-linecap="round"/>
<path d="M541,360L560,369" stroke="#fff" stroke-width="3.6" stroke-linecap="round"/>
<path d="M551,363l-1.5,3.5M554,364.5l-1.5,3.5M557,366l-1.5,3.5" stroke="#555" stroke-width="1"/>
<ellipse cx="538" cy="359" rx="4.5" ry="6.3" class="tw" stroke-width="1.5" transform="rotate(-20 538 359)"/>
<ellipse cx="539.5" cy="360" rx="2" ry="3.5" class="t" transform="rotate(-20 539.5 360)"/>
<!-- grommet 517103 -->
<path d="M457,424.5L457,430Q466,437 475,430L475,424.5" class="k" stroke-width="1.8"/>
<path d="M457.5,428Q466,434 474.5,428" class="t"/>
<ellipse cx="466" cy="424" rx="9" ry="5" class="k" stroke-width="2"/>
<ellipse cx="466" cy="424" rx="5" ry="2.5" class="t"/>

<!-- grip block 53050510 -->
<path class="f" stroke-width="1.2" d="M300.1,430L300.1,421.9L302.6,414.6L307,410L306.5,406L310,402.5L313.5,403.5L316,399.5L319,399L319.5,396L323.5,391L328,393L334.8,390.1L346.1,396.1Q350,400 349.3,404.2L344.5,416.3L325.1,439.6Q321,442.5 317.9,442.5L310.6,441.2Q304,439 302.6,436.4Z"/>
<path d="M303.5,416L307.5,412L307,407.5L310.5,404L314,405L316.5,401L320,400.5L321,397.5L324.5,393.5L328.5,395.5L334,393" fill="none" stroke="#8a8a8a" stroke-width="1.1"/>
<g stroke="#d0d0d0" stroke-width="0.8" fill="none"><path d="M309,430L341,399M314,436L346,405M311.5,424L343,393.5"/><path d="M313,416L322,438M320,409L330,431M328,402L336,422M336,395L342,412"/></g>
<path d="M300.5,423L308.5,427M328,392L335,396.5" stroke="#fff" stroke-width="1.7"/>
<circle cx="338" cy="409" r="2.3" fill="#fff"/><circle cx="319.1" cy="430.4" r="2.3" fill="#fff"/>
<!-- dark pad -->
<path class="f" d="M523.9,531.4Q524.5,527 526.6,524.3L546.1,503Q550,499 555,498.6Q562,498 565.6,501.3Q569.5,505 569.1,510.1Q569,515 567.4,518.1L553.2,533.2Q547,539 540.8,542L530.1,542Q525,540 524.8,536.7Z"/>
<path d="M525.5,527.5Q530,531 535.5,534.5M543.5,505.5Q550,503 557,502" stroke="#fff" stroke-width="1.8" fill="none"/>
<g transform="translate(549,522) rotate(-42)"><rect x="-19" y="-8" width="38" height="16" rx="8" fill="none" stroke="#fff" stroke-width="1.4"/></g>
<circle cx="558.5" cy="514" r="3.8" fill="#fff"/>
<path d="M531,545L570,512" stroke="#bbb" stroke-width="0.9"/>
<!-- bolt + bracket 52753630 -->
<path d="M92.5,486.3L103,490" stroke="#1a1a1a" stroke-width="4.4" stroke-dasharray="1.6 0.5"/>
<ellipse cx="88.9" cy="483.9" rx="4.4" ry="6.6" class="gw" transform="rotate(-15 88.9 483.9)"/>
<path class="tw" stroke-width="1.5" d="M111.2,507.9L114.6,505L132.8,487.9L138.5,489.6L150.5,501L143.1,508.4L136.2,505L118,511.9Z"/>
<path class="t" d="M118,503L125,499L126,496M121,506L128,502L134,501L135,493M138.5,489.6L134,493"/>
<circle cx="134" cy="498.5" r="1.5" fill="#bbb"/>
<path d="M136.5,505.5l3,-1.8l2,1.5" stroke="#222" stroke-width="1.4" fill="none"/>
<ellipse cx="159" cy="507.9" rx="4.2" ry="6" fill="none" stroke="#222" stroke-width="1.9" transform="rotate(15 159 507.9)"/>
<ellipse cx="159.5" cy="508" rx="1.5" ry="3" fill="none" stroke="#444" stroke-width="0.9" transform="rotate(15 159 507.9)"/>
<path d="M171.5,513.5L173.5,510.5L178,510.5L180.8,513.5L180,518L176,520L172,518.5Z" class="tw"/>
<circle cx="176.5" cy="515" r="2.2" fill="none" stroke="#777" stroke-width="0.9"/>
<!-- clip near deck -->
<path class="tw" stroke-width="1.6" d="M154.5,569.4L160.2,562.6L163.6,562.6L173.8,568.3L179.5,575.1L180.7,578.5L177.3,579.1L172.7,576.2L170.4,578.5L168.1,581.4L164.7,579.7L154.5,571.7Z"/>
<path d="M160,566L172,573" stroke="#bbb" stroke-width="3"/><path class="t" d="M158,565L168,571L170,578M163.6,562.6L162,567"/>
<!-- clip 51398010 -->
<path class="tw" stroke-width="1.6" d="M349.1,720.1L356.2,713L363.3,713.9L371.3,720.1L375.7,726.3L374.8,729L371.3,727.2L366.9,729.9L363.3,731.7L360.7,729.9L349.1,722.8Z"/>
<path d="M355,718L368,725" stroke="#bbb" stroke-width="3.2"/><path class="t" d="M352,716L363,722L364,731M356.2,713L354,718"/>
<!-- nut 700121, washer 700138 -->
<g transform="translate(331,749) rotate(20)"><path d="M-4,-4.5L-1.5,-5.5L2,-5.5L2,5.5L-1.5,5.5L-4,4.5Z" fill="#fff" stroke="#161616" stroke-width="1.5"/><ellipse cx="2" cy="0" rx="2.8" ry="5.5" fill="#fff" stroke="#161616" stroke-width="1.5"/><ellipse cx="2.3" cy="0" rx="1.3" ry="2.6" fill="#bbb"/><path d="M-1.5,-5.5V5.5" stroke="#161616" stroke-width="1.1"/></g>
<ellipse cx="348.8" cy="755.6" rx="4.3" ry="6" fill="none" stroke="#222" stroke-width="1.9" transform="rotate(15 348.8 755.6)"/>
<ellipse cx="349.3" cy="755.7" rx="1.6" ry="3" fill="none" stroke="#444" stroke-width="0.9" transform="rotate(15 348.8 755.6)"/>
<!-- bracket 52753530 -->
<path class="tw" stroke-width="1.5" d="M361.5,783.1L376.6,768L392.6,755.6L397.9,758.3L413,772.4L402.3,782.2L395.2,780.4L369.5,787.5L363.3,785.7Z"/>
<path class="t" d="M367,778L374,775L375,770M370,782L378,778L385,777L386,769M392.6,755.6L386,769M376.6,768L385,767"/>
<circle cx="390.8" cy="770.7" r="2" fill="#bbb"/>
<path d="M400,777l5,-3l4,-1M398,780l7,-3" stroke="#222" stroke-width="1.4" fill="none"/>
<!-- bolt 700545 -->
<path d="M428.5,781.3L437,784.3" stroke="#1a1a1a" stroke-width="4.2" stroke-dasharray="1.6 0.5"/>
<path class="gw" d="M437,780L441,778.5L445.5,781L446,788L442,792L438,791.5L436.5,786Z"/>
<path d="M437,780L436.5,786L438,791.5" stroke="#bbb" fill="none"/>
<!-- bolt 500071 -->
<path class="gw" d="M216.4,805.5Q220,800.5 224,805.5L224.1,829H216.4Z"/>
<path d="M217.5,806V818.5" stroke="#222" stroke-width="2"/>
<path class="gw" d="M212.5,831L214,827.5L219,826.5L226,827.5L228,831L227.5,835.5L222,838.5L215,838L212.5,835Z"/>
<path d="M214,831.5L219,832.5L226.5,831M219,832.5V838" stroke="#bbb" fill="none"/>
<!-- bushing 51375830 lower, washer 704272 -->
<g transform="translate(465.2,820.3) rotate(25)">
<rect x="-2" y="-4.2" width="12" height="8.4" rx="2" class="tw" stroke-width="1.5"/>
<ellipse cx="10" cy="0" rx="2.2" ry="4.2" class="tw" stroke-width="1.4"/>
<ellipse cx="-3" cy="0" rx="3.2" ry="6.5" class="tw" stroke-width="1.7"/>
<ellipse cx="-5" cy="0" rx="3.2" ry="6.5" class="tw" stroke-width="1.7"/>
</g>
<ellipse cx="483.5" cy="829.5" rx="4.6" ry="6.8" fill="none" stroke="#222" stroke-width="2" transform="rotate(20 483.5 829.5)"/>
<ellipse cx="484" cy="829.5" rx="1.8" ry="3.4" fill="none" stroke="#444" stroke-width="0.9" transform="rotate(20 483.5 829.5)"/>
<!-- bushing 51375830 upper -->
<g transform="translate(646.8,722.6) rotate(25)">
<rect x="-2" y="-4.2" width="12" height="8.4" rx="2" class="tw" stroke-width="1.5"/>
<ellipse cx="10" cy="0" rx="2.2" ry="4.2" class="tw" stroke-width="1.4"/>
<ellipse cx="-3" cy="0" rx="3.2" ry="6.5" class="tw" stroke-width="1.7"/>
<ellipse cx="-5" cy="0" rx="3.2" ry="6.5" class="tw" stroke-width="1.7"/>
</g>
<!-- nuts 543474 -->
<g transform="translate(687,761.5) rotate(25)"><path d="M-3.5,-4L-1,-5.2L2,-5.2L2,5.2L-1,5.2L-3.5,4Z" fill="#fff" stroke="#161616" stroke-width="1.5"/><ellipse cx="2" cy="0" rx="2.6" ry="5.2" fill="#fff" stroke="#161616" stroke-width="1.5"/><ellipse cx="2.3" cy="0" rx="1.2" ry="2.4" fill="#aaa"/><path d="M-3,-2.5V2.5" stroke="#161616" stroke-width="1.6"/></g>
<g transform="translate(553,868) rotate(25)"><path d="M-3.5,-4L-1,-5.2L2,-5.2L2,5.2L-1,5.2L-3.5,4Z" fill="#fff" stroke="#161616" stroke-width="1.5"/><ellipse cx="2" cy="0" rx="2.6" ry="5.2" fill="#fff" stroke="#161616" stroke-width="1.5"/><ellipse cx="2.3" cy="0" rx="1.2" ry="2.4" fill="#aaa"/><path d="M-3,-2.5V2.5" stroke="#161616" stroke-width="1.6"/></g>
<!-- washer 700150, nut 701124 -->
<ellipse cx="575.5" cy="552" rx="7.2" ry="8.6" fill="#fff" stroke="#161616" stroke-width="2" transform="rotate(25 575.5 552)"/>
<path d="M569.5,556Q567.5,548 573,544" stroke="#161616" stroke-width="2.6" fill="none"/>
<ellipse cx="577" cy="552" rx="3" ry="4.2" fill="none" stroke="#999" stroke-width="0.9" transform="rotate(25 575.5 552)"/>
<path d="M586.5,563Q586,557 590,555L594,554.5L596,557L596,568L592,570.5Q587.5,568.5 586.5,563Z" fill="#fff" stroke="#161616" stroke-width="1.8"/>
<path d="M588.5,558L590.5,566M591.5,556L593,569" stroke="#161616" stroke-width="1.1"/>
<ellipse cx="597.5" cy="563" rx="5.3" ry="6.6" fill="#fff" stroke="#161616" stroke-width="1.8" transform="rotate(20 597.5 563)"/>
<!-- part 518098 -->
<path class="tw" stroke-width="1.9" d="M526.8,636.4L534,612Q537,603 540.3,600Q545,597.5 549.6,598.3Q554,599.5 556.4,603.4Q559,608 560.6,613.5L560.6,623.7L551.3,625.4L545.4,622L543.7,630.4L531.8,638Z"/>
<g stroke="#9a9a9a" stroke-width="0.9" fill="none"><path d="M530.5,634L536,612Q538.5,605 544,602.5L550,603Q553,606 552,611L548,617L545.5,622"/><path d="M533,625L543,628M534.5,619L545,622M536,612L547,616M539,606L550,609M540,630L542,604M545,630L548,605"/></g>
<path class="t" stroke-width="1.5" d="M545.4,622L548,617L557,616.5M551.3,625.4L548,617"/>
<path d="M548,617L557,616.5L560.6,623.7L551.3,625.4Z" fill="#ddd" stroke="#161616" stroke-width="1.3"/>
<!-- screw 526611 -->
<path d="M578,620.5L588.5,623.6" stroke="#222" stroke-width="4.4" stroke-dasharray="1.3 0.7"/>
<path d="M587.5,619.5L592,620L594.5,623.5L593.5,628L589,628L587,624Z" fill="#fff" stroke="#161616" stroke-width="1.5"/>
<path d="M590,620V627.5" stroke="#161616" stroke-width="1"/>
<!-- plate 526910 -->
<path class="tw" stroke-width="1.8" d="M529.3,667.7L553.8,647.4L564.8,651.6L538.6,673.6Z"/>
<path class="t" d="M531,671L539,670.5L564,650"/>
<ellipse cx="553.8" cy="653.3" rx="2.6" ry="1.8" fill="#222"/><ellipse cx="538.6" cy="664.3" rx="2.6" ry="1.8" fill="#222"/>
<!-- screw 543550 -->
<path d="M554.7,677.5V688" stroke="#222" stroke-width="2.8" stroke-dasharray="1.4 0.8"/>
<path d="M553.3,677.5l1.4,-2.5l1.4,2.5z" fill="#222"/>
<path d="M549.5,690L552,688H557.5L560,690L559,693.5L554.7,695L550.5,693.5Z" fill="#fff" stroke="#161616" stroke-width="1.6"/>
<path d="M552,688.5L553,694M557,688.5L556.5,694.5" stroke="#161616" stroke-width="1"/>

<!-- lower handle 52660030 -->
<g fill="none" stroke-linecap="round" stroke-linejoin="round">
<path d="M511,833L512,820Q513,814 518,811L614,744Q624,737 634,741L652,756" stroke="#161616" stroke-width="13"/>
<path d="M511,833L512,820Q513,814 518,811L614,744Q624,737 634,741L652,756" stroke="#fff" stroke-width="8.8"/>
<path d="M519,815L613,749" stroke="#c8c8c8" stroke-width="0.9"/>
</g>
<!-- rod to 526606 -->
<g fill="none" stroke-linecap="butt">
<path d="M662,779L784,846" stroke="#161616" stroke-width="10.5"/>
<path d="M662,779L784,846" stroke="#fff" stroke-width="6.6"/>
<path d="M665,782L782,847" stroke="#c8c8c8" stroke-width="0.9"/>
</g>
<ellipse cx="661" cy="778.5" rx="4" ry="5.3" class="tw" stroke="#aaa" transform="rotate(28 661 778.5)"/>
<!-- right plate -->
<path class="k" d="M648,752.7Q652,751 658,757.7L670.6,775.2L675.6,797.8L675.6,805.3L640.5,824.1Q637,824 635.5,821.6L628,797.8L643,784L641.8,760.2Q643,753 648,752.7Z"/>
<g class="g" stroke="#999"><ellipse cx="650.5" cy="760.2" rx="2.4" ry="3"/><ellipse cx="646.5" cy="790.5" rx="2.4" ry="3"/><ellipse cx="670.5" cy="800" rx="2.4" ry="3"/><ellipse cx="640" cy="817" rx="2.4" ry="3"/><path d="M646,812L653,804M648,813L655,805"/></g>
<!-- left plate -->
<path class="k" d="M492.6,880.5L505.1,835.4Q507,832 511.4,832.9L535.2,847.9L537.7,853L510.1,878L498.9,888Q494,889 493.8,886.8Z"/>
<g class="g" stroke="#999"><ellipse cx="513.9" cy="843.4" rx="3.6" ry="4.2"/><ellipse cx="527.2" cy="853" rx="3.6" ry="4.2"/></g>
<!-- lower rod -->
<g fill="none" stroke-linecap="round" stroke-linejoin="round">
<path d="M502,879L529,894.5C534,897.5 537,901.5 542,904.5L574,922.5L625,953" stroke="#161616" stroke-width="9"/>
<path d="M502,879L529,894.5C534,897.5 537,901.5 542,904.5L574,922.5L625,953" stroke="#fff" stroke-width="5.2"/>
<path d="M503,878L529,893C534,896 537,900 542,903L574,921L624,951" stroke="#bbb" stroke-width="0.8"/>
</g>
<ellipse cx="500.5" cy="877.5" rx="3.6" ry="4.6" class="tw" stroke="#161616" stroke-width="1.6" transform="rotate(40 500.5 877.5)"/>
<!-- link 52659930 -->
<path d="M624.5,960L661.5,929.5" stroke="#161616" stroke-width="13" stroke-linecap="round"/>
<path d="M624.5,960L661.5,929.5" stroke="#fff" stroke-width="9" stroke-linecap="round"/>
<g class="g" stroke="#999"><ellipse cx="628.5" cy="957" rx="3.3" ry="4" transform="rotate(30 628.5 957)"/><ellipse cx="658" cy="933.5" rx="3.3" ry="4" transform="rotate(30 658 933.5)"/></g>
<!-- spring 302231 + link -->
<path class="t" d="M783,852L789,872L795,872M785,850L793,866"/>
<ellipse cx="792" cy="868" rx="2" ry="2.5" fill="none" stroke="#333"/>
<ellipse cx="780" cy="849" rx="4.3" ry="9.5" fill="#161616" transform="rotate(20 780 849)"/>
<path d="M778,841L782,846M779,852L776,856" stroke="#666" stroke-width="0.8"/>
<!-- plate 526606 -->
<path class="k" d="M779.6,885.5L795.9,871.7L794.7,842.9Q796,838 802.2,837.9L822.2,854.2L828.5,884.3L790.9,910.6Q787,911 785.9,908.1Z"/>
<g class="g" stroke="#999"><ellipse cx="802" cy="846" rx="2.4" ry="3"/><ellipse cx="815" cy="866" rx="3.4" ry="4.6"/><ellipse cx="824" cy="881" rx="2.4" ry="3"/><ellipse cx="798" cy="877" rx="2.4" ry="3"/><ellipse cx="792" cy="904" rx="2.4" ry="3"/><path d="M796,899L803,891M798,900L805,892"/></g>

<!-- pulley 523609 -->
<g>
<ellipse cx="1302.7" cy="528.1" rx="47.9" ry="34.3" fill="#fff" stroke="#161616" stroke-width="1.7" transform="rotate(-67 1302.7 528.1)"/>
<ellipse cx="1303.6" cy="529.7" rx="46.9" ry="25.7" fill="#fff" stroke="#a8a8a8" stroke-width="1.1" transform="rotate(-67 1303.6 529.7)"/>
<ellipse cx="1303.6" cy="529.7" rx="46.9" ry="25.7" fill="none" stroke="#161616" stroke-width="2" pathLength="100" stroke-dasharray="0 47 53 0" transform="rotate(-67 1303.6 529.7)"/>
<circle cx="1282.5" cy="541.5" r="6" fill="none" stroke="#999"/><path d="M1277.5,546Q1277,538.5 1284.5,536" fill="none" stroke="#999"/>
<ellipse cx="1299.5" cy="528" rx="3.3" ry="4.8" fill="none" stroke="#999" transform="rotate(20 1299.5 528)"/>
<ellipse cx="1288" cy="514" rx="2.2" ry="2.8" fill="#161616"/><ellipse cx="1300.3" cy="560.3" rx="2.2" ry="2.8" fill="#161616"/>
</g>
<!-- bearing 701972 -->
<ellipse cx="1345.4" cy="552" rx="7.2" ry="9.3" fill="#fff" stroke="#1a1a1a" stroke-width="3" transform="rotate(22 1345.4 552)"/>
<ellipse cx="1346" cy="552" rx="3" ry="4.6" fill="none" stroke="#333" stroke-width="1.3" transform="rotate(22 1345.4 552)"/>
<!-- bushing 512552 -->
<g transform="translate(1377,565.5) rotate(28)">
<rect x="-10" y="-7.5" width="6" height="15" fill="#fff" stroke="#161616" stroke-width="1.6"/>
<ellipse cx="-10" cy="0" rx="3" ry="7.5" fill="#fff" stroke="#161616" stroke-width="1.6"/>
<rect x="-4" y="-10.5" width="10" height="21" fill="#fff" stroke="#161616" stroke-width="1.7"/>
<ellipse cx="-4" cy="0" rx="3.6" ry="10.5" fill="#fff" stroke="#161616" stroke-width="1.7"/>
<ellipse cx="6" cy="0" rx="4.2" ry="10.5" fill="#fff" stroke="#161616" stroke-width="1.8"/>
<ellipse cx="6.4" cy="0.8" rx="2.4" ry="5" fill="#fff" stroke="#161616" stroke-width="1.2"/>
<path d="M5,-3l3,0M5,0l3,1M5,3l3,0M6,-4.5v9" stroke="#333" stroke-width="0.9"/>
</g>
<!-- bushing 512552 #2 -->
<g transform="translate(1482,615.5) rotate(28)">
<rect x="-10" y="-7.5" width="6" height="15" fill="#fff" stroke="#161616" stroke-width="1.6"/>
<ellipse cx="-10" cy="0" rx="3" ry="7.5" fill="#fff" stroke="#161616" stroke-width="1.6"/>
<rect x="-4" y="-10.5" width="10" height="21" fill="#fff" stroke="#161616" stroke-width="1.7"/>
<ellipse cx="-4" cy="0" rx="3.6" ry="10.5" fill="#fff" stroke="#161616" stroke-width="1.7"/>
<ellipse cx="6" cy="0" rx="4.2" ry="10.5" fill="#fff" stroke="#161616" stroke-width="1.8"/>
<ellipse cx="6.4" cy="0.8" rx="2.4" ry="5" fill="#fff" stroke="#161616" stroke-width="1.2"/>
<ellipse cx="6.8" cy="2.5" rx="1.6" ry="2.6" fill="#161616"/>
</g>
<!-- washer 700150 (2) -->
<ellipse cx="1522.6" cy="636.4" rx="6.6" ry="8.2" fill="#fff" stroke="#1a1a1a" stroke-width="2.8" transform="rotate(22 1522.6 636.4)"/>
<ellipse cx="1523.2" cy="636.4" rx="2.4" ry="3.6" fill="none" stroke="#333" stroke-width="1.3" transform="rotate(22 1522.6 636.4)"/>
<!-- nut 700121 (2) -->
<g transform="translate(1547.4,645.6) rotate(22)">
<path d="M-8,-7L-4,-10L3,-10L3,10L-4,10L-8,7Z" class="tw" stroke-width="1.7"/>
<ellipse cx="3" cy="0" rx="5.5" ry="10" class="tw" stroke-width="1.7"/>
<ellipse cx="3.5" cy="0" rx="2.8" ry="4.5" fill="#161616"/>
<path d="M-2,-10V10M-8,0H0" stroke="#777" stroke-width="0.9"/>
</g>
<!-- cap 519528 -->
<ellipse cx="1600" cy="662.5" rx="26.5" ry="34.8" class="tw" stroke-width="1.4" transform="rotate(20 1600 662.5)"/>
<path class="t" d="M1571,683Q1572,657 1588,640L1590,638M1574,684Q1576,660 1590,643"/>
<!-- belt 506839 -->
<g transform="translate(1299,687) rotate(-33.8)">
<rect x="-61.5" y="-12.5" width="123" height="25" rx="12.5" fill="#fff" stroke="#161616" stroke-width="2.6"/>
<rect x="-58" y="-9" width="116" height="18" rx="9" fill="none" stroke="#161616" stroke-width="1.3"/>
<path d="M-48,6.5H52" stroke="#161616" stroke-width="2.6"/>
</g>

<!-- key 704068 -->
<path class="tw" stroke-width="1.9" d="M1149.7,692L1152.3,691.1L1172.7,706.2L1171.8,712.4L1169.2,712.4L1149.7,698.2Z"/>
<path class="t" d="M1152.3,691.1L1152,697.5L1171.8,712.4"/>
<!-- spring 513491 -->
<g transform="translate(1154.5,722) rotate(34)">
<rect x="-12.5" y="-5.5" width="25" height="11" rx="5" fill="#fff" stroke="#b5b5b5" stroke-width="1.1"/>
<path d="M-9,-5.5l-2,11M-6,-5.5l-2,11M-3,-5.5l-2,11M0,-5.5l-2,11M3,-5.5l-2,11M6,-5.5l-2,11M9,-5.5l-2,11" stroke="#999" stroke-width="1.2"/>
</g>
<!-- clip 700489 (upper) -->
<path d="M1000,722Q999,713 1004,709L1010,707L1013,709L1016,708Q1019,711 1018,718Q1017,725 1012,728L1005,729Q1001,727 1000,722Z" fill="#fff" stroke="#aaa" stroke-width="1.1"/>
<path d="M1005,716Q1006,712 1010,712Q1013,714 1011,719L1008,723Q1005,722 1005,716ZM1013,709V714" fill="none" stroke="#aaa" stroke-width="1"/>
<!-- washers -->
<ellipse cx="1034.9" cy="734.2" rx="5.4" ry="6.9" fill="#fff" stroke="#1a1a1a" stroke-width="2.4" transform="rotate(25 1034.9 734.2)"/>
<ellipse cx="1035.3" cy="734.3" rx="2.4" ry="3.8" fill="none" stroke="#444" stroke-width="1" transform="rotate(25 1034.9 734.2)"/>
<ellipse cx="1060.1" cy="747.9" rx="5.4" ry="6.9" fill="#fff" stroke="#1a1a1a" stroke-width="2.4" transform="rotate(25 1060.1 747.9)"/>
<ellipse cx="1060.5" cy="748" rx="2.4" ry="3.8" fill="none" stroke="#444" stroke-width="1" transform="rotate(25 1060.1 747.9)"/>
<!-- gear 531275 (upper) -->
<g transform="translate(1094,762) rotate(22)">
<rect x="-13" y="-13" width="14" height="26" fill="#fff" stroke="#1a1a1a" stroke-width="2"/>
<ellipse cx="-13" cy="0" rx="4" ry="13" fill="#fff" stroke="#1a1a1a" stroke-width="2"/>
<path d="M-15,-11h4M-16,-7h4M-16.5,-3h4M-16.5,1h4M-16,5h4M-15,9h4" stroke="#1a1a1a" stroke-width="2.2"/>
<ellipse cx="1" cy="0" rx="7.5" ry="14" fill="#fff" stroke="#1a1a1a" stroke-width="2.2"/>
<ellipse cx="2" cy="1" rx="2.2" ry="3.2" fill="#fff" stroke="#1a1a1a" stroke-width="1.6"/>
</g>
<!-- pulley 530375 (upper) -->
<g transform="translate(1126,776) rotate(22)">
<ellipse cx="-4" cy="0" rx="6" ry="13.5" fill="#1a1a1a"/>
<rect x="-4" y="-13.5" width="5" height="27" fill="#1a1a1a"/>
<ellipse cx="1" cy="0" rx="6" ry="13.5" fill="#1a1a1a" stroke="#1a1a1a"/>
<path d="M-6,-12.5V12.5" stroke="#777" stroke-width="0.8"/>
<rect x="1" y="-7.5" width="6" height="15" fill="#fff" stroke="#1a1a1a" stroke-width="1.8"/>
<ellipse cx="7" cy="0" rx="3.5" ry="7.5" fill="#fff" stroke="#1a1a1a" stroke-width="1.8"/>
<ellipse cx="7.3" cy="0" rx="1.6" ry="3.6" fill="none" stroke="#1a1a1a" stroke-width="1.1"/>
</g>
<!-- shaft 543450 -->
<g fill="none">
<path d="M1156,790.5L1268,846" stroke="#161616" stroke-width="11" stroke-linecap="butt"/>
<path d="M1156,790.5L1268,846" stroke="#fff" stroke-width="7"/>
<path d="M1160,794L1262,845" stroke="#aaa" stroke-width="0.9"/>
</g>
<ellipse cx="1155.5" cy="790" rx="3.8" ry="6" class="tw" stroke-width="1.8" transform="rotate(25 1155.5 790)"/>
<path d="M1158.5,786.5L1157,794.5M1161,787.5L1159.5,795.5" stroke="#1a1a1a" stroke-width="1.1"/>
<!-- output shaft right -->
<path d="M1327,872L1359,888.5" stroke="#161616" stroke-width="9.5"/>
<path d="M1327,872L1359,888.5" stroke="#fff" stroke-width="5.6"/>
<path d="M1327,876.5L1358,892" stroke="#161616" stroke-width="2.6"/>
<ellipse cx="1359.5" cy="888.5" rx="3.6" ry="5.3" class="tw" stroke-width="1.8" transform="rotate(25 1359.5 888.5)"/>
<!-- gearbox body -->
<path class="k" stroke-width="2" d="M1272.2,862L1273.2,887.7Q1274,892 1278,892.5L1301.2,897.3L1308,897.3L1317.7,890.6L1319.6,886.7L1319.6,872.2L1310,877Z"/>
<path class="k" stroke-width="2.6" d="M1265.5,857.7L1272.2,848L1286.7,828.7L1317.7,844.1L1333.2,851.9L1334.1,861.6L1310,877L1304.1,878L1274.2,866.4L1267.4,863.5Z"/>
<path class="kn" stroke-width="2.4" d="M1268,861L1305,874.5L1332,857M1305,874.5V878"/>
<path class="t" d="M1296,846L1318,857L1329,852M1318,857L1316,865"/>
<path d="M1319.6,872.2L1327,868L1329,873L1322,885" class="tw" stroke-width="1.6"/>
<circle cx="1326" cy="874" r="3.2" fill="#fff" stroke="#1a1a1a" stroke-width="1.5"/>
<!-- input shaft & arm -->
<path d="M1286.5,828.5L1312,851L1305.5,853.5L1288,838Z" fill="#161616" stroke="#161616" stroke-width="1.5" stroke-linejoin="round"/>
<path d="M1289,831L1300,842L1307,844" stroke="#161616" stroke-width="2" fill="none"/>
<ellipse cx="1281" cy="849" rx="7" ry="4" class="tw" stroke-width="1.8"/>
<rect x="1277.5" y="830.5" width="8.5" height="18" fill="#fff" stroke="#1a1a1a" stroke-width="1.8"/>
<ellipse cx="1281.8" cy="830.5" rx="4.25" ry="2.2" class="tw" stroke-width="1.6"/>
<path d="M1280,833V847" stroke="#999" stroke-width="0.9"/>
<!-- corner bolts -->
<g fill="#1a1a1a"><rect x="1265.5" y="851" width="6" height="12" rx="1.5"/><rect x="1302" y="848.5" width="6" height="10" rx="1.5"/><rect x="1327.5" y="849.5" width="6" height="12" rx="1.5"/><rect x="1303" y="868" width="6" height="12" rx="1.5"/><rect x="1291" y="866" width="3" height="6"/>
<rect x="1302" y="884" width="8" height="9"/></g>
<circle cx="1293" cy="859" r="3.4" fill="#fff" stroke="#1a1a1a" stroke-width="1.5"/>
<!-- clip at left of gearbox -->
<path class="tw" stroke-width="1.5" d="M1262.5,842L1265,840L1266,852L1270,854L1270.5,846L1268,843"/>
<!-- pulley 522140 -->
<ellipse cx="1283.4" cy="813.5" rx="17.3" ry="11.8" fill="#fff" stroke="#b0b0b0" stroke-width="1"/>
<ellipse cx="1283.4" cy="810.5" rx="17.3" ry="11" fill="#fff" stroke="#aaa" stroke-width="1.1"/>
<ellipse cx="1283.4" cy="810.5" rx="13.5" ry="8.4" fill="none" stroke="#bbb" stroke-width="0.9"/>
<path d="M1266.6,814Q1268,822.5 1283.4,824Q1299,822.5 1300.2,814" fill="none" stroke="#1a1a1a" stroke-width="3"/>
<path d="M1283.4,810L1283.4,802.5M1283.4,810L1275,814M1283.4,810L1292,814M1278,806.5L1289,806.5L1283.5,815Z" fill="none" stroke="#888" stroke-width="1"/>
<ellipse cx="1283.4" cy="809.5" rx="3.4" ry="2.4" fill="none" stroke="#888" stroke-width="1"/>
<!-- pin 700161 -->
<g transform="translate(1312,822) rotate(22)"><rect x="-5.5" y="-2.8" width="11" height="5.6" rx="1.5" class="tw" stroke-width="1.6"/><ellipse cx="5.2" cy="0" rx="1.5" ry="2.8" class="tw" stroke-width="1.2"/></g>
<!-- key 704068 (2) -->
<path class="tw" stroke-width="1.9" d="M1416.1,830.7L1419.3,829.6L1438.8,843.7L1437.7,851.3L1434.5,850.2L1416.1,837.2Z"/>
<path class="t" d="M1419.3,829.6L1418.5,836.5L1437.7,851.3"/>
<!-- spring 513491 (2) -->
<g transform="translate(1420,861) rotate(34)">
<rect x="-12.5" y="-5.5" width="25" height="11" rx="5" fill="#fff" stroke="#b5b5b5" stroke-width="1.1"/>
<path d="M-9,-5.5l-2,11M-6,-5.5l-2,11M-3,-5.5l-2,11M0,-5.5l-2,11M3,-5.5l-2,11M6,-5.5l-2,11M9,-5.5l-2,11" stroke="#999" stroke-width="1.2"/>
</g>
<!-- cable 526816 -->
<path d="M1188.5,912.5L1199,902" stroke="#161616" stroke-width="4" stroke-dasharray="1.2 0.7"/>
<g transform="translate(1202,898.5) rotate(-42)"><rect x="-4" y="-3.5" width="10" height="7" rx="1.5" class="tw" stroke-width="1.6"/></g>
<path d="M1208,893L1215,887.5" stroke="#aaa" stroke-width="4.5"/><path d="M1208,893L1215,887.5" stroke="#fff" stroke-width="2.5" stroke-dasharray="1.5 1.5"/>
<path d="M1215,887.5L1227,877" stroke="#161616" stroke-width="3.2"/><path d="M1215,887.5L1227,877" stroke="#fff" stroke-width="1.2"/>
<path d="M1226,878.5L1234,870.5" stroke="#161616" stroke-width="4.6" stroke-linecap="round"/><path d="M1226,878.5L1234,870.5" stroke="#fff" stroke-width="2.2" stroke-linecap="round"/>
<path d="M1229,866L1242,875" stroke="#161616" stroke-width="5" stroke-linecap="round"/><path d="M1229,866L1242,875" stroke="#fff" stroke-width="2.6" stroke-linecap="round"/>
<!-- spring 308450 -->
<g transform="translate(1281,910) rotate(-36)">
<path d="M-24,-3Q-26,0 -24,3L-14,5.5H16Q20,0 16,-5.5H-14Z" fill="#fff" stroke="#aaa" stroke-width="1.1"/>
<ellipse cx="-19" cy="0" rx="2.5" ry="1.6" fill="none" stroke="#aaa"/>
<path d="M-12,-5.5q-3,5.5 0,11M-9,-5.5q-3,5.5 0,11M-6,-5.5q-3,5.5 0,11M-3,-5.5q-3,5.5 0,11M0,-5.5q-3,5.5 0,11M3,-5.5q-3,5.5 0,11M6,-5.5q-3,5.5 0,11M9,-5.5q-3,5.5 0,11M12,-5.5q-3,5.5 0,11" fill="none" stroke="#555" stroke-width="1.3"/>
<ellipse cx="-11" cy="0" rx="2" ry="5.5" fill="none" stroke="#333" stroke-width="1.6"/>
<path d="M14,-6L20,-7M14,6L20,5" stroke="#333" stroke-width="1.5"/>
</g>
<!-- lower: pulley 530375 (2) -->
<g transform="translate(1451,941) rotate(22)">
<ellipse cx="-3" cy="0" rx="6" ry="12" fill="#1a1a1a"/>
<rect x="-3" y="-12" width="6" height="24" fill="#1a1a1a"/>
<ellipse cx="3" cy="0" rx="6.5" ry="12" fill="#fff" stroke="#1a1a1a" stroke-width="2.4"/>
<ellipse cx="3.5" cy="0" rx="4" ry="8" fill="none" stroke="#1a1a1a" stroke-width="1.6"/>
<ellipse cx="4" cy="0" rx="2" ry="4.5" fill="none" stroke="#1a1a1a" stroke-width="1.2"/>
<path d="M-6,-9h3M-7,-4h3M-7,1h3M-6.5,6h3" stroke="#888" stroke-width="1"/>
</g>
<!-- gear 531275 (2) -->
<g transform="translate(1480,957) rotate(24)">
<rect x="-12" y="-15.5" width="10" height="31" fill="#fff" stroke="#161616" stroke-width="2.2"/>
<ellipse cx="-12" cy="0" rx="4.5" ry="15.5" fill="#fff" stroke="#161616" stroke-width="2.4"/>
<path d="M-9,-14.5Q-6,0 -9,14.5" fill="none" stroke="#999" stroke-width="0.9"/>
<ellipse cx="-2" cy="0" rx="4.5" ry="15.5" fill="#fff" stroke="#161616" stroke-width="2"/>
<rect x="-2" y="-12.5" width="10" height="25" fill="#161616"/>
<path d="M-1,-10H7M-1,-5H7M-1,0H7M-1,5H7M-1,10H7" stroke="#fff" stroke-width="1.2"/>
<g transform="translate(8,0)">
<path d="M0,-13L3,-12L3.5,-9L5,-8L6,-5L5.5,-2L7,0L6,3L5.5,6L4,9L3,12L0,13L-3,12L-3.5,9L-4.5,6L-5,3L-5.5,0L-5,-3L-4.5,-6L-3.5,-9L-3,-12Z" fill="#fff" stroke="#161616" stroke-width="1.6"/>
<ellipse cx="0.5" cy="0" rx="2.2" ry="4.5" fill="#fff" stroke="#161616" stroke-width="1.5"/>
</g>
</g>
<!-- washers lower -->
<ellipse cx="1504.1" cy="971.6" rx="5.2" ry="7" fill="#fff" stroke="#1a1a1a" stroke-width="2.4" transform="rotate(25 1504.1 971.6)"/>
<ellipse cx="1504.5" cy="971.7" rx="2.3" ry="3.8" fill="none" stroke="#444" stroke-width="1" transform="rotate(25 1504.1 971.6)"/>
<ellipse cx="1534.2" cy="990.1" rx="5.2" ry="7" fill="#fff" stroke="#1a1a1a" stroke-width="2.4" transform="rotate(25 1534.2 990.1)"/>
<ellipse cx="1534.6" cy="990.2" rx="2.3" ry="3.8" fill="none" stroke="#444" stroke-width="1" transform="rotate(25 1534.2 990.1)"/>
<!-- clip 700489 lower -->
<path d="M1547.5,1002Q1547,994 1551,991L1556,990L1558,991.5L1560,991Q1562.5,994 1561.5,1000Q1560.5,1006 1556.5,1008L1550.5,1008.5Q1548,1006 1547.5,1002Z" fill="#fff" stroke="#aaa" stroke-width="1.1"/>
<path d="M1551.5,997Q1552,993.5 1555,993.5Q1558,995 1556.5,999.5L1554,1003Q1551.5,1002 1551.5,997ZM1558,991.5V996" fill="none" stroke="#aaa" stroke-width="1"/>

<!-- bearing 700201 -->
<ellipse cx="730.1" cy="1012.4" rx="7.6" ry="9.6" fill="#fff" stroke="#1a1a1a" stroke-width="3" transform="rotate(20 730.1 1012.4)"/>
<ellipse cx="730.6" cy="1012.4" rx="3" ry="4.5" fill="none" stroke="#333" stroke-width="1.3" transform="rotate(20 730.1 1012.4)"/>
<ellipse cx="730.4" cy="1012.4" rx="5.3" ry="7" fill="none" stroke="#555" stroke-width="1.6" stroke-dasharray="1.5 1.2" transform="rotate(20 730.1 1012.4)"/>
<!-- washer 702387 -->
<ellipse cx="792.3" cy="1051.2" rx="5.6" ry="7.6" fill="#fff" stroke="#1a1a1a" stroke-width="2.2" transform="rotate(25 792.3 1051.2)"/>
<ellipse cx="792.8" cy="1051.5" rx="2.6" ry="4" fill="none" stroke="#444" stroke-width="1" transform="rotate(25 792.3 1051.2)"/>
<!-- axle 524096 -->
<g transform="translate(801,1057.5) rotate(26)">
<rect x="0" y="-3.6" width="14" height="7.2" rx="2" class="tw" stroke-width="1.5"/>
<rect x="13" y="-4.6" width="22" height="9.2" class="tw" stroke-width="1.6"/>
<path d="M3,-3.6V3.6" stroke="#333" stroke-width="2"/>
<ellipse cx="35" cy="0" rx="4.5" ry="8" class="tw" stroke-width="2.2"/>
<ellipse cx="38" cy="0" rx="4.5" ry="7.5" class="tw" stroke-width="2"/>
<ellipse cx="40.5" cy="0" rx="3" ry="5" class="tw" stroke-width="1.5"/>
</g>
<!-- cap 52360102 -->
<ellipse cx="867" cy="1097.5" rx="24.2" ry="29.6" class="tw" stroke-width="1.4" transform="rotate(25 867 1097.5)"/>
<path class="t" d="M840.5,1102Q842,1085 854,1074.5L857,1073M842.5,1102Q845,1088 855,1077" stroke-width="1.2"/>

<g class="d" stroke="#999">
<path d="M1289.6,515.3L1303.2,521.5M1303.2,532.2L1337,548.5"/>
</g>

<text transform="translate(697.5,313.9) scale(0.74,1)" textLength="85.7" lengthAdjust="spacing">53102201</text>
<text transform="translate(520.1,326.9) scale(0.74,1)" textLength="65.1" lengthAdjust="spacing">701494</text>
<text transform="translate(592.9,326.9) scale(0.74,1)" letter-spacing="0.9" text-anchor="end">(4)</text>
<text transform="translate(495.0,433.4) scale(0.74,1)" textLength="66.5" lengthAdjust="spacing">517103</text>
<text transform="translate(202.3,453.0) scale(0.74,1)" textLength="86.6" lengthAdjust="spacing">53050510</text>
<text transform="translate(291.0,453.0) scale(0.74,1)" letter-spacing="0.9" text-anchor="end">(2)</text>
<text transform="translate(33.0,537.5) scale(0.74,1)" textLength="88.8" lengthAdjust="spacing">52753630</text>
<text transform="translate(616.1,520.5) scale(0.74,1)" textLength="64.9" lengthAdjust="spacing">700150</text>
<text transform="translate(688.7,520.5) scale(0.74,1)" letter-spacing="0.9" text-anchor="end">(4)</text>
<text transform="translate(629.6,566.1) scale(0.74,1)" textLength="64.9" lengthAdjust="spacing">701124</text>
<text transform="translate(702.2,566.1) scale(0.74,1)" letter-spacing="0.9" text-anchor="end">(4)</text>
<text transform="translate(571.3,598.3) scale(0.74,1)" textLength="65.3" lengthAdjust="spacing">518098</text>
<text transform="translate(644.2,598.3) scale(0.74,1)" letter-spacing="0.9" text-anchor="end">(2)</text>
<text transform="translate(620.8,627.0) scale(0.74,1)" textLength="65.3" lengthAdjust="spacing">526611</text>
<text transform="translate(693.7,627.0) scale(0.74,1)" letter-spacing="0.9" text-anchor="end">(6)</text>
<text transform="translate(587.0,660.0) scale(0.74,1)" textLength="65.3" lengthAdjust="spacing">526910</text>
<text transform="translate(659.9,660.0) scale(0.74,1)" letter-spacing="0.9" text-anchor="end">(2)</text>
<text transform="translate(583.3,693.0) scale(0.74,1)" textLength="63.4" lengthAdjust="spacing">543550</text>
<text transform="translate(654.8,693.0) scale(0.74,1)" letter-spacing="0.9" text-anchor="end">(4)</text>
<text transform="translate(96.8,686.9) scale(0.74,1)" textLength="65.1" lengthAdjust="spacing">527125</text>
<text transform="translate(389.2,730.4) scale(0.74,1)" textLength="88.0" lengthAdjust="spacing">51398010</text>
<text transform="translate(671.1,715.8) scale(0.74,1)" textLength="87.6" lengthAdjust="spacing">51375830</text>
<text transform="translate(218.2,752.5) scale(0.74,1)" textLength="65.0" lengthAdjust="spacing">700121</text>
<text transform="translate(286.0,752.5) scale(0.74,1)" letter-spacing="0.9" text-anchor="end">(2)</text>
<text transform="translate(222.7,779.0) scale(0.74,1)" textLength="64.5" lengthAdjust="spacing">700138</text>
<text transform="translate(295.0,779.0) scale(0.74,1)" letter-spacing="0.9" text-anchor="end">(2)</text>
<text transform="translate(465.6,770.7) scale(0.74,1)" textLength="87.4" lengthAdjust="spacing">52660030</text>
<text transform="translate(712.5,767.7) scale(0.74,1)" textLength="65.4" lengthAdjust="spacing">543474</text>
<text transform="translate(282.8,815.0) scale(0.74,1)" textLength="88.1" lengthAdjust="spacing">52753530</text>
<text transform="translate(797.2,804.8) scale(0.74,1)" textLength="64.1" lengthAdjust="spacing">302231</text>
<text transform="translate(107.3,824.7) scale(0.74,1)" textLength="65.4" lengthAdjust="spacing">500071</text>
<text transform="translate(180.3,824.7) scale(0.74,1)" letter-spacing="0.9" text-anchor="end">(2)</text>
<text transform="translate(362.6,833.2) scale(0.74,1)" textLength="63.9" lengthAdjust="spacing">700545</text>
<text transform="translate(434.5,833.2) scale(0.74,1)" letter-spacing="0.9" text-anchor="end">(2)</text>
<text transform="translate(383.0,877.9) scale(0.74,1)" textLength="88.0" lengthAdjust="spacing">51375830</text>
<text transform="translate(579.1,882.5) scale(0.74,1)" textLength="65.1" lengthAdjust="spacing">543474</text>
<text transform="translate(415.8,901.8) scale(0.74,1)" textLength="65.3" lengthAdjust="spacing">704272</text>
<text transform="translate(829.8,930.7) scale(0.74,1)" textLength="65.1" lengthAdjust="spacing">526606</text>
<text transform="translate(665.4,970.8) scale(0.74,1)" textLength="87.4" lengthAdjust="spacing">52659930</text>
<text transform="translate(605.2,1021.2) scale(0.74,1)" textLength="64.7" lengthAdjust="spacing">700201</text>
<text transform="translate(677.7,1021.2) scale(0.74,1)" letter-spacing="0.9" text-anchor="end">(2)</text>
<text transform="translate(615.8,1051.2) scale(0.74,1)" textLength="66.4" lengthAdjust="spacing">523547</text>
<text transform="translate(689.5,1051.2) scale(0.74,1)" letter-spacing="0.9" text-anchor="end">(2)</text>
<text transform="translate(639.6,1081.8) scale(0.74,1)" textLength="64.7" lengthAdjust="spacing">702387</text>
<text transform="translate(712.1,1081.8) scale(0.74,1)" letter-spacing="0.9" text-anchor="end">(2)</text>
<text transform="translate(674.1,1106.9) scale(0.74,1)" textLength="64.7" lengthAdjust="spacing">524096</text>
<text transform="translate(746.6,1106.9) scale(0.74,1)" letter-spacing="0.9" text-anchor="end">(2)</text>
<text transform="translate(674.1,1142.2) scale(0.74,1)" textLength="86.2" lengthAdjust="spacing">52360102</text>
<text transform="translate(762.5,1142.2) scale(0.74,1)" letter-spacing="0.9" text-anchor="end">(2)</text>
<text transform="translate(1325.8,411.4) scale(0.74,1)" textLength="65.3" lengthAdjust="spacing">523609</text>
<text transform="translate(1398.7,411.4) scale(0.74,1)" letter-spacing="0.9" text-anchor="end">(2)</text>
<text transform="translate(1370.9,443.9) scale(0.74,1)" textLength="64.5" lengthAdjust="spacing">701972</text>
<text transform="translate(1443.2,443.9) scale(0.74,1)" letter-spacing="0.9" text-anchor="end">(2)</text>
<text transform="translate(1417.0,471.2) scale(0.74,1)" textLength="64.5" lengthAdjust="spacing">512552</text>
<text transform="translate(1489.3,471.2) scale(0.74,1)" letter-spacing="0.9" text-anchor="end">(2)</text>
<text transform="translate(1470.3,499.6) scale(0.74,1)" textLength="64.5" lengthAdjust="spacing">512425</text>
<text transform="translate(1542.6,499.6) scale(0.74,1)" letter-spacing="0.9" text-anchor="end">(2)</text>
<text transform="translate(1516.7,528.7) scale(0.74,1)" textLength="64.5" lengthAdjust="spacing">512552</text>
<text transform="translate(1589.0,528.7) scale(0.74,1)" letter-spacing="0.9" text-anchor="end">(2)</text>
<text transform="translate(1549.4,564.5) scale(0.74,1)" textLength="65.1" lengthAdjust="spacing">700150</text>
<text transform="translate(1622.2,564.5) scale(0.74,1)" letter-spacing="0.9" text-anchor="end">(2)</text>
<text transform="translate(1576.8,592.4) scale(0.74,1)" textLength="64.3" lengthAdjust="spacing">700121</text>
<text transform="translate(1649.0,592.4) scale(0.74,1)" letter-spacing="0.9" text-anchor="end">(2)</text>
<text transform="translate(1625.2,616.9) scale(0.74,1)" textLength="65.1" lengthAdjust="spacing">519528</text>
<text transform="translate(1698.0,616.9) scale(0.74,1)" letter-spacing="0.9" text-anchor="end">(2)</text>
<text transform="translate(1086.9,668.9) scale(0.74,1)" textLength="65.3" lengthAdjust="spacing">704068</text>
<text transform="translate(1070.9,700.0) scale(0.74,1)" textLength="64.1" lengthAdjust="spacing">513491</text>
<text transform="translate(1378.5,691.4) scale(0.74,1)" textLength="66.1" lengthAdjust="spacing">506839</text>
<text transform="translate(926.4,748.2) scale(0.74,1)" textLength="68.8" lengthAdjust="spacing">700489</text>
<text transform="translate(1229.2,753.8) scale(0.74,1)" textLength="66.1" lengthAdjust="spacing">543450</text>
<text transform="translate(945.5,768.2) scale(0.74,1)" textLength="68.9" lengthAdjust="spacing">701017</text>
<text transform="translate(971.3,786.9) scale(0.74,1)" textLength="68.5" lengthAdjust="spacing">702387</text>
<text transform="translate(1324.4,786.3) scale(0.74,1)" textLength="66.2" lengthAdjust="spacing">522140</text>
<text transform="translate(996.1,806.7) scale(0.74,1)" textLength="68.8" lengthAdjust="spacing">531275</text>
<text transform="translate(1341.1,827.4) scale(0.74,1)" textLength="64.1" lengthAdjust="spacing">700161</text>
<text transform="translate(1450.0,850.6) scale(0.74,1)" textLength="65.3" lengthAdjust="spacing">704068</text>
<text transform="translate(1022.7,854.3) scale(0.74,1)" textLength="67.7" lengthAdjust="spacing">530375</text>
<text transform="translate(1446.4,873.4) scale(0.74,1)" textLength="64.3" lengthAdjust="spacing">513491</text>
<text transform="translate(1106.2,926.4) scale(0.74,1)" textLength="66.8" lengthAdjust="spacing">526816</text>
<text transform="translate(1203.3,947.8) scale(0.74,1)" textLength="65.7" lengthAdjust="spacing">308450</text>
<text transform="translate(1371.9,966.4) scale(0.74,1)" textLength="68.9" lengthAdjust="spacing">530375</text>
<text transform="translate(1409.3,1008.0) scale(0.74,1)" textLength="68.9" lengthAdjust="spacing">531275</text>
<text transform="translate(1432.6,1034.9) scale(0.74,1)" textLength="68.0" lengthAdjust="spacing">702387</text>
<text transform="translate(1463.4,1053.8) scale(0.74,1)" textLength="66.9" lengthAdjust="spacing">701017</text>
<text transform="translate(1483.3,1073.7) scale(0.74,1)" textLength="68.4" lengthAdjust="spacing">700489</text>
<text transform="translate(1444.6,799.7) scale(0.8,1)" textLength="76.2" lengthAdjust="spacing" style="font-size:19.5px">527332</text>
</svg></body></html>
